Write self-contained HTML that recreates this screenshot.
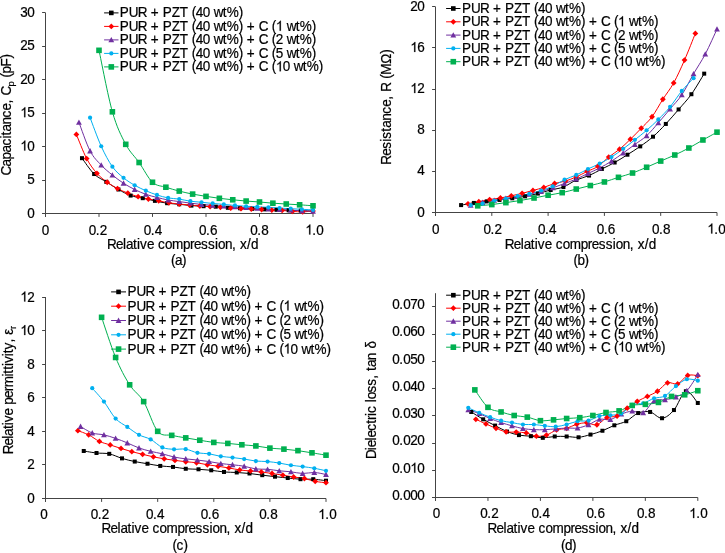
<!DOCTYPE html>
<html><head><meta charset="utf-8"><style>
html,body{margin:0;padding:0;background:#fff;}
svg{display:block;will-change:transform;}
text{stroke:#000;stroke-width:0.2px;}
path.o{stroke:#000;stroke-width:0.2px;vector-effect:non-scaling-stroke;}
</style></head><body>
<svg width="725" height="553" viewBox="0 0 725 553" font-family="Liberation Sans, sans-serif" font-size="13" fill="#000">
<rect width="725" height="553" fill="#fff"/>
<path d="M45.5 12.8V216.9M42.1 213.5H313.0" stroke="#444444" stroke-width="1" fill="none"/>
<path d="M42.1 213.50H45.5" stroke="#444444" stroke-width="1"/>
<g transform="translate(34.30 217.50) scale(1.04 1.07)"><text><tspan x="-6.73" y="0">0</tspan></text></g>
<path d="M42.1 180.50H45.5" stroke="#444444" stroke-width="1"/>
<g transform="translate(34.30 184.05) scale(1.04 1.07)"><text><tspan x="-6.73" y="0">5</tspan></text></g>
<path d="M42.1 146.50H45.5" stroke="#444444" stroke-width="1"/>
<g transform="translate(34.30 150.60) scale(1.04 1.07)"><text><tspan x="-13.46 -6.73" y="0"> 0</tspan></text><path class="o" transform="translate(-13.46 0) scale(0.006348 -0.006348)" d="M763 0h-180v1147q-65 -62 -170.5 -124t-189.5 -93v174q151 71 263.5 171.5t159.5 196.5h117v-1472z"/></g>
<path d="M42.1 113.50H45.5" stroke="#444444" stroke-width="1"/>
<g transform="translate(34.30 117.15) scale(1.04 1.07)"><text><tspan x="-13.46 -6.73" y="0"> 5</tspan></text><path class="o" transform="translate(-13.46 0) scale(0.006348 -0.006348)" d="M763 0h-180v1147q-65 -62 -170.5 -124t-189.5 -93v174q151 71 263.5 171.5t159.5 196.5h117v-1472z"/></g>
<path d="M42.1 79.50H45.5" stroke="#444444" stroke-width="1"/>
<g transform="translate(34.30 83.70) scale(1.04 1.07)"><text><tspan x="-13.46 -6.73" y="0">20</tspan></text></g>
<path d="M42.1 46.50H45.5" stroke="#444444" stroke-width="1"/>
<g transform="translate(34.30 50.25) scale(1.04 1.07)"><text><tspan x="-13.46 -6.73" y="0">25</tspan></text></g>
<path d="M42.1 12.50H45.5" stroke="#444444" stroke-width="1"/>
<g transform="translate(34.30 16.80) scale(1.04 1.07)"><text><tspan x="-13.46 -6.73" y="0">30</tspan></text></g>
<path d="M45.50 213.5V216.9" stroke="#444444" stroke-width="1"/>
<g transform="translate(45.30 234.50) scale(1.04 1.07)"><text><tspan x="-3.37" y="0">0</tspan></text></g>
<path d="M99.00 213.5V216.9" stroke="#444444" stroke-width="1"/>
<g transform="translate(97.80 234.50) scale(1.04 1.07)"><text><tspan x="-8.65 -1.92 1.92" y="0">0.2</tspan></text></g>
<path d="M152.50 213.5V216.9" stroke="#444444" stroke-width="1"/>
<g transform="translate(152.80 234.50) scale(1.04 1.07)"><text><tspan x="-8.65 -1.92 1.92" y="0">0.4</tspan></text></g>
<path d="M206.00 213.5V216.9" stroke="#444444" stroke-width="1"/>
<g transform="translate(208.10 234.50) scale(1.04 1.07)"><text><tspan x="-8.65 -1.92 1.92" y="0">0.6</tspan></text></g>
<path d="M259.50 213.5V216.9" stroke="#444444" stroke-width="1"/>
<g transform="translate(259.30 234.50) scale(1.04 1.07)"><text><tspan x="-8.65 -1.92 1.92" y="0">0.8</tspan></text></g>
<path d="M313.00 213.5V216.9" stroke="#444444" stroke-width="1"/>
<g transform="translate(314.30 234.50) scale(1.04 1.07)"><text><tspan x="-8.65 -1.92 1.92" y="0"> .0</tspan></text><path class="o" transform="translate(-8.65 0) scale(0.006348 -0.006348)" d="M763 0h-180v1147q-65 -62 -170.5 -124t-189.5 -93v174q151 71 263.5 171.5t159.5 196.5h117v-1472z"/></g>
<g transform="translate(182.50 249.20) scale(1.04 1.07)"><text><tspan x="-72.60 -63.94 -57.21 -54.33 -47.60 -43.75 -40.87 -34.13 -27.40 -23.56 -16.83 -10.10 0.48 7.21 11.06 17.79 24.52 31.25 34.13 40.87 47.60 51.44 55.29 62.02 65.87" y="0">Relative compression, x/d</tspan></text></g>
<g transform="translate(178.50 265.00) scale(1.04 1.07)"><text><tspan x="-7.21 -3.37 3.37" y="0">(a)</tspan></text></g>
<g transform="translate(10.50 115.10) rotate(-90) scale(1.04 1.07)"><text><tspan x="-58.17 -49.52 -42.79 -36.06 -29.33 -22.60 -19.71 -15.87 -9.13 -2.40 4.33 11.06 14.90 18.75" y="0">Capacitance, C</tspan><tspan x="27.40" y="3" font-size="9">p</tspan><tspan x="32.21 36.06 39.90 46.63 54.33" y="0"> (pF)</tspan></text></g>
<path d="M81.98 158.17C84.00 160.82 90.08 170.08 94.14 174.03C98.19 177.98 102.24 179.28 106.30 181.86C110.35 184.43 114.40 187.20 118.45 189.48C122.51 191.77 126.56 194.12 130.61 195.57C134.67 197.02 138.72 197.30 142.77 198.18C146.83 199.06 150.88 200.02 154.93 200.86C158.98 201.69 163.04 202.63 167.09 203.20C171.14 203.77 175.20 203.87 179.25 204.27C183.30 204.67 187.36 205.28 191.41 205.61C195.46 205.93 199.52 206.03 203.57 206.21C207.62 206.39 211.67 206.41 215.73 206.68C219.78 206.94 223.83 207.55 227.89 207.81C231.94 208.08 235.99 208.11 240.05 208.28C244.10 208.45 248.15 208.64 252.20 208.82C256.26 209.00 260.31 209.18 264.36 209.35C268.42 209.52 272.47 209.66 276.52 209.82C280.58 209.98 284.63 210.14 288.68 210.29C292.73 210.43 296.79 210.56 300.84 210.69C304.89 210.82 310.97 211.02 313.00 211.09" stroke="#000000" stroke-width="1" fill="none"/>
<path d="M76.37 134.42C78.08 138.45 83.22 152.09 86.65 158.58C90.08 165.06 93.51 169.41 96.94 173.36C100.37 177.31 103.80 179.73 107.23 182.26C110.66 184.79 114.09 186.74 117.52 188.55C120.95 190.35 124.38 191.74 127.81 193.10C131.24 194.46 134.67 195.73 138.10 196.71C141.53 197.69 144.96 198.29 148.38 198.98C151.81 199.67 155.24 200.21 158.67 200.86C162.10 201.50 165.53 202.34 168.96 202.86C172.39 203.39 175.82 203.63 179.25 204.00C182.68 204.37 186.11 204.74 189.54 205.07C192.97 205.41 196.40 205.74 199.83 206.01C203.26 206.27 206.69 206.46 210.12 206.68C213.54 206.89 216.97 207.03 220.40 207.28C223.83 207.52 227.26 207.91 230.69 208.15C234.12 208.38 237.55 208.54 240.98 208.68C244.41 208.83 247.84 208.88 251.27 209.02C254.70 209.15 258.13 209.29 261.56 209.49C264.99 209.69 268.42 210.07 271.85 210.22C275.28 210.38 278.71 210.22 282.13 210.42C285.56 210.62 288.99 211.19 292.42 211.43C295.85 211.66 299.28 211.89 302.71 211.83C306.14 211.76 311.29 211.16 313.00 211.02" stroke="#ff0000" stroke-width="1" fill="none"/>
<path d="M78.94 122.38C80.80 127.14 86.37 143.82 90.08 150.95C93.80 158.07 97.51 161.12 101.23 165.13C104.94 169.15 108.66 172.01 112.38 175.03C116.09 178.05 119.81 180.85 123.52 183.26C127.24 185.67 130.95 187.64 134.67 189.48C138.38 191.32 142.10 192.97 145.81 194.30C149.53 195.63 153.24 196.50 156.96 197.44C160.67 198.39 164.39 199.29 168.10 199.99C171.82 200.68 175.53 201.07 179.25 201.59C182.97 202.12 186.68 202.65 190.40 203.13C194.11 203.61 197.83 204.10 201.54 204.47C205.26 204.84 208.97 205.06 212.69 205.34C216.40 205.62 220.12 205.90 223.83 206.14C227.55 206.39 231.26 206.56 234.98 206.81C238.69 207.06 242.41 207.37 246.12 207.61C249.84 207.86 253.56 208.06 257.27 208.28C260.99 208.50 264.70 208.73 268.42 208.95C272.13 209.17 275.85 209.42 279.56 209.62C283.28 209.82 286.99 209.98 290.71 210.16C294.42 210.33 298.14 210.51 301.85 210.69C305.57 210.87 311.14 211.14 313.00 211.23" stroke="#7030a0" stroke-width="1" fill="none"/>
<path d="M90.08 117.70C91.94 122.46 97.51 138.10 101.23 146.27C104.94 154.43 108.66 161.42 112.38 166.67C116.09 171.92 119.81 174.68 123.52 177.78C127.24 180.88 130.95 183.12 134.67 185.27C138.38 187.42 142.10 189.07 145.81 190.69C149.53 192.30 153.24 193.76 156.96 194.97C160.67 196.17 164.39 197.22 168.10 197.91C171.82 198.60 175.53 198.57 179.25 199.12C182.97 199.66 186.68 200.67 190.40 201.19C194.11 201.71 197.83 201.88 201.54 202.26C205.26 202.64 208.97 203.11 212.69 203.47C216.40 203.82 220.12 204.07 223.83 204.40C227.55 204.74 231.26 205.16 234.98 205.47C238.69 205.78 242.41 206.04 246.12 206.27C249.84 206.51 253.56 206.71 257.27 206.88C260.99 207.04 264.70 207.08 268.42 207.28C272.13 207.48 275.85 207.85 279.56 208.08C283.28 208.32 286.99 208.48 290.71 208.68C294.42 208.88 298.14 209.08 301.85 209.29C305.57 209.49 311.14 209.79 313.00 209.89" stroke="#00b0f0" stroke-width="1" fill="none"/>
<path d="M99.00 50.33C101.23 60.58 107.92 96.15 112.38 111.81C116.83 127.48 121.29 135.87 125.75 144.33C130.21 152.78 134.67 156.20 139.12 162.52C143.58 168.84 148.04 178.14 152.50 182.26C156.96 186.37 161.42 185.74 165.88 187.21C170.33 188.68 174.79 189.94 179.25 191.09C183.71 192.24 188.17 193.22 192.62 194.10C197.08 194.98 201.54 195.67 206.00 196.37C210.46 197.08 214.92 197.75 219.38 198.31C223.83 198.88 228.29 199.33 232.75 199.79C237.21 200.24 241.67 200.69 246.12 201.06C250.58 201.42 255.04 201.64 259.50 201.99C263.96 202.35 268.42 202.86 272.88 203.20C277.33 203.53 281.79 203.73 286.25 204.00C290.71 204.27 295.17 204.50 299.62 204.80C304.08 205.10 310.77 205.64 313.00 205.81" stroke="#00b050" stroke-width="1" fill="none"/>
<rect x="79.98" y="156.17" width="4.00" height="4.00" fill="#000000"/>
<rect x="92.14" y="172.03" width="4.00" height="4.00" fill="#000000"/>
<rect x="104.30" y="179.86" width="4.00" height="4.00" fill="#000000"/>
<rect x="116.45" y="187.48" width="4.00" height="4.00" fill="#000000"/>
<rect x="128.61" y="193.57" width="4.00" height="4.00" fill="#000000"/>
<rect x="140.77" y="196.18" width="4.00" height="4.00" fill="#000000"/>
<rect x="152.93" y="198.86" width="4.00" height="4.00" fill="#000000"/>
<rect x="165.09" y="201.20" width="4.00" height="4.00" fill="#000000"/>
<rect x="177.25" y="202.27" width="4.00" height="4.00" fill="#000000"/>
<rect x="189.41" y="203.61" width="4.00" height="4.00" fill="#000000"/>
<rect x="201.57" y="204.21" width="4.00" height="4.00" fill="#000000"/>
<rect x="213.73" y="204.68" width="4.00" height="4.00" fill="#000000"/>
<rect x="225.89" y="205.81" width="4.00" height="4.00" fill="#000000"/>
<rect x="238.05" y="206.28" width="4.00" height="4.00" fill="#000000"/>
<rect x="250.20" y="206.82" width="4.00" height="4.00" fill="#000000"/>
<rect x="262.36" y="207.35" width="4.00" height="4.00" fill="#000000"/>
<rect x="274.52" y="207.82" width="4.00" height="4.00" fill="#000000"/>
<rect x="286.68" y="208.29" width="4.00" height="4.00" fill="#000000"/>
<rect x="298.84" y="208.69" width="4.00" height="4.00" fill="#000000"/>
<rect x="311.00" y="209.09" width="4.00" height="4.00" fill="#000000"/>
<path d="M76.37 131.52L79.27 134.42L76.37 137.32L73.47 134.42Z" fill="#ff0000"/>
<path d="M86.65 155.68L89.55 158.58L86.65 161.48L83.75 158.58Z" fill="#ff0000"/>
<path d="M96.94 170.46L99.84 173.36L96.94 176.26L94.04 173.36Z" fill="#ff0000"/>
<path d="M107.23 179.36L110.13 182.26L107.23 185.16L104.33 182.26Z" fill="#ff0000"/>
<path d="M117.52 185.65L120.42 188.55L117.52 191.45L114.62 188.55Z" fill="#ff0000"/>
<path d="M127.81 190.20L130.71 193.10L127.81 196.00L124.91 193.10Z" fill="#ff0000"/>
<path d="M138.10 193.81L141.00 196.71L138.10 199.61L135.20 196.71Z" fill="#ff0000"/>
<path d="M148.38 196.08L151.28 198.98L148.38 201.88L145.48 198.98Z" fill="#ff0000"/>
<path d="M158.67 197.96L161.57 200.86L158.67 203.76L155.77 200.86Z" fill="#ff0000"/>
<path d="M168.96 199.96L171.86 202.86L168.96 205.76L166.06 202.86Z" fill="#ff0000"/>
<path d="M179.25 201.10L182.15 204.00L179.25 206.90L176.35 204.00Z" fill="#ff0000"/>
<path d="M189.54 202.17L192.44 205.07L189.54 207.97L186.64 205.07Z" fill="#ff0000"/>
<path d="M199.83 203.11L202.73 206.01L199.83 208.91L196.93 206.01Z" fill="#ff0000"/>
<path d="M210.12 203.78L213.02 206.68L210.12 209.58L207.22 206.68Z" fill="#ff0000"/>
<path d="M220.40 204.38L223.30 207.28L220.40 210.18L217.50 207.28Z" fill="#ff0000"/>
<path d="M230.69 205.25L233.59 208.15L230.69 211.05L227.79 208.15Z" fill="#ff0000"/>
<path d="M240.98 205.78L243.88 208.68L240.98 211.58L238.08 208.68Z" fill="#ff0000"/>
<path d="M251.27 206.12L254.17 209.02L251.27 211.92L248.37 209.02Z" fill="#ff0000"/>
<path d="M261.56 206.59L264.46 209.49L261.56 212.39L258.66 209.49Z" fill="#ff0000"/>
<path d="M271.85 207.32L274.75 210.22L271.85 213.12L268.95 210.22Z" fill="#ff0000"/>
<path d="M282.13 207.52L285.03 210.42L282.13 213.32L279.23 210.42Z" fill="#ff0000"/>
<path d="M292.42 208.53L295.32 211.43L292.42 214.33L289.52 211.43Z" fill="#ff0000"/>
<path d="M302.71 208.93L305.61 211.83L302.71 214.73L299.81 211.83Z" fill="#ff0000"/>
<path d="M313.00 208.12L315.90 211.02L313.00 213.92L310.10 211.02Z" fill="#ff0000"/>
<path d="M78.94 119.48L81.84 124.85L76.04 124.85Z" fill="#7030a0"/>
<path d="M90.08 148.05L92.98 153.41L87.18 153.41Z" fill="#7030a0"/>
<path d="M101.23 162.23L104.13 167.60L98.33 167.60Z" fill="#7030a0"/>
<path d="M112.38 172.13L115.28 177.50L109.47 177.50Z" fill="#7030a0"/>
<path d="M123.52 180.36L126.42 185.73L120.62 185.73Z" fill="#7030a0"/>
<path d="M134.67 186.58L137.57 191.95L131.77 191.95Z" fill="#7030a0"/>
<path d="M145.81 191.40L148.71 196.76L142.91 196.76Z" fill="#7030a0"/>
<path d="M156.96 194.54L159.86 199.91L154.06 199.91Z" fill="#7030a0"/>
<path d="M168.10 197.09L171.00 202.45L165.20 202.45Z" fill="#7030a0"/>
<path d="M179.25 198.69L182.15 204.06L176.35 204.06Z" fill="#7030a0"/>
<path d="M190.40 200.23L193.30 205.60L187.50 205.60Z" fill="#7030a0"/>
<path d="M201.54 201.57L204.44 206.93L198.64 206.93Z" fill="#7030a0"/>
<path d="M212.69 202.44L215.59 207.80L209.79 207.80Z" fill="#7030a0"/>
<path d="M223.83 203.24L226.73 208.61L220.93 208.61Z" fill="#7030a0"/>
<path d="M234.98 203.91L237.88 209.28L232.08 209.28Z" fill="#7030a0"/>
<path d="M246.12 204.71L249.03 210.08L243.22 210.08Z" fill="#7030a0"/>
<path d="M257.27 205.38L260.17 210.75L254.37 210.75Z" fill="#7030a0"/>
<path d="M268.42 206.05L271.32 211.42L265.52 211.42Z" fill="#7030a0"/>
<path d="M279.56 206.72L282.46 212.08L276.66 212.08Z" fill="#7030a0"/>
<path d="M290.71 207.25L293.61 212.62L287.81 212.62Z" fill="#7030a0"/>
<path d="M301.85 207.79L304.75 213.16L298.95 213.16Z" fill="#7030a0"/>
<path d="M313.00 208.33L315.90 213.69L310.10 213.69Z" fill="#7030a0"/>
<circle cx="90.08" cy="117.70" r="2.10" fill="#00b0f0"/>
<circle cx="101.23" cy="146.27" r="2.10" fill="#00b0f0"/>
<circle cx="112.38" cy="166.67" r="2.10" fill="#00b0f0"/>
<circle cx="123.52" cy="177.78" r="2.10" fill="#00b0f0"/>
<circle cx="134.67" cy="185.27" r="2.10" fill="#00b0f0"/>
<circle cx="145.81" cy="190.69" r="2.10" fill="#00b0f0"/>
<circle cx="156.96" cy="194.97" r="2.10" fill="#00b0f0"/>
<circle cx="168.10" cy="197.91" r="2.10" fill="#00b0f0"/>
<circle cx="179.25" cy="199.12" r="2.10" fill="#00b0f0"/>
<circle cx="190.40" cy="201.19" r="2.10" fill="#00b0f0"/>
<circle cx="201.54" cy="202.26" r="2.10" fill="#00b0f0"/>
<circle cx="212.69" cy="203.47" r="2.10" fill="#00b0f0"/>
<circle cx="223.83" cy="204.40" r="2.10" fill="#00b0f0"/>
<circle cx="234.98" cy="205.47" r="2.10" fill="#00b0f0"/>
<circle cx="246.12" cy="206.27" r="2.10" fill="#00b0f0"/>
<circle cx="257.27" cy="206.88" r="2.10" fill="#00b0f0"/>
<circle cx="268.42" cy="207.28" r="2.10" fill="#00b0f0"/>
<circle cx="279.56" cy="208.08" r="2.10" fill="#00b0f0"/>
<circle cx="290.71" cy="208.68" r="2.10" fill="#00b0f0"/>
<circle cx="301.85" cy="209.29" r="2.10" fill="#00b0f0"/>
<circle cx="313.00" cy="209.89" r="2.10" fill="#00b0f0"/>
<rect x="96.20" y="47.53" width="5.60" height="5.60" fill="#00b050"/>
<rect x="109.58" y="109.01" width="5.60" height="5.60" fill="#00b050"/>
<rect x="122.95" y="141.53" width="5.60" height="5.60" fill="#00b050"/>
<rect x="136.32" y="159.72" width="5.60" height="5.60" fill="#00b050"/>
<rect x="149.70" y="179.46" width="5.60" height="5.60" fill="#00b050"/>
<rect x="163.07" y="184.41" width="5.60" height="5.60" fill="#00b050"/>
<rect x="176.45" y="188.29" width="5.60" height="5.60" fill="#00b050"/>
<rect x="189.82" y="191.30" width="5.60" height="5.60" fill="#00b050"/>
<rect x="203.20" y="193.57" width="5.60" height="5.60" fill="#00b050"/>
<rect x="216.57" y="195.51" width="5.60" height="5.60" fill="#00b050"/>
<rect x="229.95" y="196.99" width="5.60" height="5.60" fill="#00b050"/>
<rect x="243.32" y="198.26" width="5.60" height="5.60" fill="#00b050"/>
<rect x="256.70" y="199.19" width="5.60" height="5.60" fill="#00b050"/>
<rect x="270.07" y="200.40" width="5.60" height="5.60" fill="#00b050"/>
<rect x="283.45" y="201.20" width="5.60" height="5.60" fill="#00b050"/>
<rect x="296.82" y="202.00" width="5.60" height="5.60" fill="#00b050"/>
<rect x="310.20" y="203.01" width="5.60" height="5.60" fill="#00b050"/>
<path d="M104.1 12.90H118.5" stroke="#000000" stroke-width="1"/>
<rect x="109.00" y="10.60" width="4.60" height="4.60" fill="#000000"/>
<g transform="translate(119.80 17.30) scale(1.04 1.07)"><text><tspan x="0.00 8.65 17.31 25.96 29.81 37.50 41.35 50.00 57.69 65.38 69.23 73.08 79.81 86.54 90.38 99.04 102.88 114.42" y="0">PUR + PZT (40 wt%)</tspan></text></g>
<path d="M104.1 26.40H118.5" stroke="#ff0000" stroke-width="1"/>
<path d="M111.30 23.50L114.20 26.40L111.30 29.30L108.40 26.40Z" fill="#ff0000"/>
<g transform="translate(119.80 30.80) scale(1.04 1.07)"><text><tspan x="0.00 8.65 17.31 25.96 29.81 37.50 41.35 50.00 57.69 65.38 69.23 73.08 79.81 86.54 90.38 99.04 102.88 114.42 118.27 122.12 129.81 133.65 142.31 146.15 150.00 156.73 160.58 169.23 173.08 184.62" y="0">PUR + PZT (40 wt%) + C (  wt%)</tspan></text><path class="o" transform="translate(150.00 0) scale(0.006348 -0.006348)" d="M763 0h-180v1147q-65 -62 -170.5 -124t-189.5 -93v174q151 71 263.5 171.5t159.5 196.5h117v-1472z"/></g>
<path d="M104.1 39.90H118.5" stroke="#7030a0" stroke-width="1"/>
<path d="M111.30 37.00L114.20 42.36L108.40 42.36Z" fill="#7030a0"/>
<g transform="translate(119.80 44.30) scale(1.04 1.07)"><text><tspan x="0.00 8.65 17.31 25.96 29.81 37.50 41.35 50.00 57.69 65.38 69.23 73.08 79.81 86.54 90.38 99.04 102.88 114.42 118.27 122.12 129.81 133.65 142.31 146.15 150.00 156.73 160.58 169.23 173.08 184.62" y="0">PUR + PZT (40 wt%) + C (2 wt%)</tspan></text></g>
<path d="M104.1 53.40H118.5" stroke="#00b0f0" stroke-width="1"/>
<circle cx="111.30" cy="53.40" r="2.10" fill="#00b0f0"/>
<g transform="translate(119.80 57.80) scale(1.04 1.07)"><text><tspan x="0.00 8.65 17.31 25.96 29.81 37.50 41.35 50.00 57.69 65.38 69.23 73.08 79.81 86.54 90.38 99.04 102.88 114.42 118.27 122.12 129.81 133.65 142.31 146.15 150.00 156.73 160.58 169.23 173.08 184.62" y="0">PUR + PZT (40 wt%) + C (5 wt%)</tspan></text></g>
<path d="M104.1 66.90H118.5" stroke="#00b050" stroke-width="1"/>
<rect x="108.50" y="64.10" width="5.60" height="5.60" fill="#00b050"/>
<g transform="translate(119.80 71.30) scale(1.04 1.07)"><text><tspan x="0.00 8.65 17.31 25.96 29.81 37.50 41.35 50.00 57.69 65.38 69.23 73.08 79.81 86.54 90.38 99.04 102.88 114.42 118.27 122.12 129.81 133.65 142.31 146.15 150.00 156.73 163.46 167.31 175.96 179.81 191.35" y="0">PUR + PZT (40 wt%) + C ( 0 wt%)</tspan></text><path class="o" transform="translate(150.00 0) scale(0.006348 -0.006348)" d="M763 0h-180v1147q-65 -62 -170.5 -124t-189.5 -93v174q151 71 263.5 171.5t159.5 196.5h117v-1472z"/></g>
<path d="M435.5 6.8V215.9M432.1 212.5H717.0" stroke="#444444" stroke-width="1" fill="none"/>
<path d="M432.1 212.50H435.5" stroke="#444444" stroke-width="1"/>
<g transform="translate(424.30 216.50) scale(1.04 1.07)"><text><tspan x="-6.73" y="0">0</tspan></text></g>
<path d="M432.1 171.50H435.5" stroke="#444444" stroke-width="1"/>
<g transform="translate(424.30 175.36) scale(1.04 1.07)"><text><tspan x="-6.73" y="0">4</tspan></text></g>
<path d="M432.1 130.50H435.5" stroke="#444444" stroke-width="1"/>
<g transform="translate(424.30 134.22) scale(1.04 1.07)"><text><tspan x="-6.73" y="0">8</tspan></text></g>
<path d="M432.1 89.50H435.5" stroke="#444444" stroke-width="1"/>
<g transform="translate(424.30 93.08) scale(1.04 1.07)"><text><tspan x="-13.46 -6.73" y="0"> 2</tspan></text><path class="o" transform="translate(-13.46 0) scale(0.006348 -0.006348)" d="M763 0h-180v1147q-65 -62 -170.5 -124t-189.5 -93v174q151 71 263.5 171.5t159.5 196.5h117v-1472z"/></g>
<path d="M432.1 47.50H435.5" stroke="#444444" stroke-width="1"/>
<g transform="translate(424.30 51.94) scale(1.04 1.07)"><text><tspan x="-13.46 -6.73" y="0"> 6</tspan></text><path class="o" transform="translate(-13.46 0) scale(0.006348 -0.006348)" d="M763 0h-180v1147q-65 -62 -170.5 -124t-189.5 -93v174q151 71 263.5 171.5t159.5 196.5h117v-1472z"/></g>
<path d="M432.1 6.50H435.5" stroke="#444444" stroke-width="1"/>
<g transform="translate(424.30 10.80) scale(1.04 1.07)"><text><tspan x="-13.46 -6.73" y="0">20</tspan></text></g>
<path d="M435.50 212.5V215.9" stroke="#444444" stroke-width="1"/>
<g transform="translate(435.50 233.50) scale(1.04 1.07)"><text><tspan x="-3.37" y="0">0</tspan></text></g>
<path d="M491.80 212.5V215.9" stroke="#444444" stroke-width="1"/>
<g transform="translate(492.60 233.50) scale(1.04 1.07)"><text><tspan x="-8.65 -1.92 1.92" y="0">0.2</tspan></text></g>
<path d="M548.10 212.5V215.9" stroke="#444444" stroke-width="1"/>
<g transform="translate(547.10 233.50) scale(1.04 1.07)"><text><tspan x="-8.65 -1.92 1.92" y="0">0.4</tspan></text></g>
<path d="M604.40 212.5V215.9" stroke="#444444" stroke-width="1"/>
<g transform="translate(605.80 233.50) scale(1.04 1.07)"><text><tspan x="-8.65 -1.92 1.92" y="0">0.6</tspan></text></g>
<path d="M660.70 212.5V215.9" stroke="#444444" stroke-width="1"/>
<g transform="translate(661.00 233.50) scale(1.04 1.07)"><text><tspan x="-8.65 -1.92 1.92" y="0">0.8</tspan></text></g>
<path d="M717.00 212.5V215.9" stroke="#444444" stroke-width="1"/>
<g transform="translate(716.30 233.50) scale(1.04 1.07)"><text><tspan x="-8.65 -1.92 1.92" y="0"> .0</tspan></text><path class="o" transform="translate(-8.65 0) scale(0.006348 -0.006348)" d="M763 0h-180v1147q-65 -62 -170.5 -124t-189.5 -93v174q151 71 263.5 171.5t159.5 196.5h117v-1472z"/></g>
<g transform="translate(580.20 249.20) scale(1.04 1.07)"><text><tspan x="-72.60 -63.94 -57.21 -54.33 -47.60 -43.75 -40.87 -34.13 -27.40 -23.56 -16.83 -10.10 0.48 7.21 11.06 17.79 24.52 31.25 34.13 40.87 47.60 51.44 55.29 62.02 65.87" y="0">Relative compression, x/d</tspan></text></g>
<g transform="translate(581.00 264.80) scale(1.04 1.07)"><text><tspan x="-7.21 -3.37 3.37" y="0">(b)</tspan></text></g>
<g transform="translate(390.80 107.30) rotate(-90) scale(1.04 1.07)"><text><tspan x="-55.29 -46.63 -39.90 -33.17 -30.29 -23.56 -19.71 -12.98 -6.25 0.48 7.21 11.06 14.90 23.56 27.40 31.25 41.83 51.44" y="0">Resistance, R (MΩ)</tspan></text></g>
<path d="M461.09 205.09C463.22 204.73 469.62 203.55 473.89 202.93C478.15 202.32 482.42 201.89 486.68 201.39C490.95 200.90 495.21 200.47 499.48 199.95C503.74 199.44 508.01 198.91 512.27 198.31C516.54 197.71 520.80 197.14 525.07 196.35C529.33 195.56 533.60 194.64 537.86 193.58C542.13 192.51 546.39 191.07 550.66 189.98C554.92 188.88 559.19 188.66 563.45 186.99C567.72 185.33 571.98 181.90 576.25 180.00C580.52 178.10 584.78 177.41 589.05 175.58C593.31 173.74 597.58 171.17 601.84 168.99C606.11 166.82 610.37 164.90 614.64 162.51C618.90 160.13 623.17 157.39 627.43 154.70C631.70 152.01 635.96 149.37 640.23 146.37C644.49 143.37 648.76 140.44 653.02 136.70C657.29 132.96 661.55 128.49 665.82 123.95C670.08 119.40 674.35 114.40 678.61 109.44C682.88 104.49 687.14 100.19 691.41 94.22C695.67 88.26 702.07 77.08 704.20 73.65" stroke="#000000" stroke-width="1" fill="none"/>
<path d="M467.98 203.86C469.79 203.50 475.20 202.42 478.81 201.70C482.42 200.98 486.03 200.16 489.63 199.54C493.24 198.92 496.85 198.62 500.46 198.00C504.07 197.38 507.68 196.61 511.29 195.84C514.90 195.07 518.51 194.26 522.12 193.37C525.72 192.48 529.33 191.48 532.94 190.49C536.55 189.50 540.16 188.57 543.77 187.40C547.38 186.24 550.99 184.56 554.60 183.50C558.21 182.43 561.81 182.12 565.42 181.03C569.03 179.93 572.64 178.51 576.25 176.91C579.86 175.32 583.47 173.21 587.08 171.46C590.69 169.71 594.29 168.82 597.90 166.42C601.51 164.02 605.12 159.93 608.73 157.06C612.34 154.20 615.95 152.21 619.56 149.25C623.17 146.28 626.78 142.77 630.38 139.27C633.99 135.77 637.60 132.02 641.21 128.27C644.82 124.51 648.43 121.58 652.04 116.75C655.65 111.91 659.26 104.90 662.87 99.26C666.47 93.62 670.08 89.44 673.69 82.91C677.30 76.38 680.91 68.32 684.52 60.08C688.13 51.83 693.54 37.88 695.35 33.44" stroke="#ff0000" stroke-width="1" fill="none"/>
<path d="M470.69 205.30C472.64 204.82 478.51 203.24 482.42 202.42C486.33 201.60 490.24 201.03 494.15 200.36C498.06 199.70 501.97 199.04 505.88 198.41C509.78 197.78 513.69 197.26 517.60 196.56C521.51 195.86 525.42 195.05 529.33 194.19C533.24 193.34 537.15 192.48 541.06 191.42C544.97 190.35 548.88 189.14 552.79 187.82C556.70 186.50 560.61 184.95 564.52 183.50C568.43 182.04 572.34 180.75 576.25 179.07C580.16 177.39 584.07 175.27 587.98 173.42C591.89 171.57 595.80 170.01 599.71 167.97C603.62 165.93 607.53 163.66 611.44 161.18C615.35 158.69 619.26 155.85 623.17 153.05C627.08 150.26 630.99 147.29 634.90 144.41C638.81 141.53 642.72 139.37 646.62 135.77C650.53 132.17 654.44 127.29 658.35 122.81C662.26 118.34 666.17 113.59 670.08 108.93C673.99 104.27 677.90 100.68 681.81 94.84C685.72 88.99 689.63 80.65 693.54 73.86C697.45 67.07 701.36 61.57 705.27 54.11C709.18 46.65 715.05 33.28 717.00 29.12" stroke="#7030a0" stroke-width="1" fill="none"/>
<path d="M470.69 205.09C472.64 204.84 478.51 204.27 482.42 203.55C486.33 202.83 490.24 201.60 494.15 200.78C498.06 199.95 501.97 199.40 505.88 198.62C509.78 197.83 513.69 196.83 517.60 196.04C521.51 195.26 525.42 194.81 529.33 193.88C533.24 192.96 537.15 191.76 541.06 190.49C544.97 189.22 548.88 188.07 552.79 186.27C556.70 184.47 560.61 181.58 564.52 179.69C568.43 177.81 572.34 176.74 576.25 174.96C580.16 173.18 584.07 170.90 587.98 168.99C591.89 167.09 595.80 165.53 599.71 163.54C603.62 161.55 607.53 159.52 611.44 157.06C615.35 154.61 619.26 151.72 623.17 148.84C627.08 145.96 630.99 142.87 634.90 139.79C638.81 136.70 642.72 133.72 646.62 130.32C650.53 126.93 654.44 123.33 658.35 119.42C662.26 115.51 666.17 111.62 670.08 106.87C673.99 102.12 677.90 95.71 681.81 90.93C685.72 86.15 691.59 80.30 693.54 78.18" stroke="#00b0f0" stroke-width="1" fill="none"/>
<path d="M477.73 205.81C480.07 205.61 487.11 205.11 491.80 204.58C496.49 204.05 501.18 203.29 505.88 202.63C510.57 201.96 515.26 201.34 519.95 200.57C524.64 199.80 529.33 198.89 534.02 198.00C538.72 197.11 543.41 196.11 548.10 195.22C552.79 194.33 557.48 193.68 562.17 192.65C566.87 191.62 571.56 190.23 576.25 189.05C580.94 187.87 585.63 186.74 590.33 185.55C595.02 184.37 599.71 183.32 604.40 181.95C609.09 180.58 613.78 178.82 618.48 177.33C623.17 175.83 627.86 174.69 632.55 173.01C637.24 171.33 641.93 169.23 646.62 167.25C651.32 165.26 656.01 163.11 660.70 161.07C665.39 159.04 670.08 157.18 674.77 155.01C679.47 152.83 684.16 150.52 688.85 148.01C693.54 145.51 698.23 142.63 702.92 139.99C707.62 137.35 714.65 133.48 717.00 132.17" stroke="#00b050" stroke-width="1" fill="none"/>
<rect x="459.09" y="203.09" width="4.00" height="4.00" fill="#000000"/>
<rect x="471.89" y="200.93" width="4.00" height="4.00" fill="#000000"/>
<rect x="484.68" y="199.39" width="4.00" height="4.00" fill="#000000"/>
<rect x="497.48" y="197.95" width="4.00" height="4.00" fill="#000000"/>
<rect x="510.27" y="196.31" width="4.00" height="4.00" fill="#000000"/>
<rect x="523.07" y="194.35" width="4.00" height="4.00" fill="#000000"/>
<rect x="535.86" y="191.58" width="4.00" height="4.00" fill="#000000"/>
<rect x="548.66" y="187.98" width="4.00" height="4.00" fill="#000000"/>
<rect x="561.45" y="184.99" width="4.00" height="4.00" fill="#000000"/>
<rect x="574.25" y="178.00" width="4.00" height="4.00" fill="#000000"/>
<rect x="587.05" y="173.58" width="4.00" height="4.00" fill="#000000"/>
<rect x="599.84" y="166.99" width="4.00" height="4.00" fill="#000000"/>
<rect x="612.64" y="160.51" width="4.00" height="4.00" fill="#000000"/>
<rect x="625.43" y="152.70" width="4.00" height="4.00" fill="#000000"/>
<rect x="638.23" y="144.37" width="4.00" height="4.00" fill="#000000"/>
<rect x="651.02" y="134.70" width="4.00" height="4.00" fill="#000000"/>
<rect x="663.82" y="121.95" width="4.00" height="4.00" fill="#000000"/>
<rect x="676.61" y="107.44" width="4.00" height="4.00" fill="#000000"/>
<rect x="689.41" y="92.22" width="4.00" height="4.00" fill="#000000"/>
<rect x="702.20" y="71.65" width="4.00" height="4.00" fill="#000000"/>
<path d="M467.98 200.96L470.88 203.86L467.98 206.76L465.08 203.86Z" fill="#ff0000"/>
<path d="M478.81 198.80L481.71 201.70L478.81 204.60L475.91 201.70Z" fill="#ff0000"/>
<path d="M489.63 196.64L492.53 199.54L489.63 202.44L486.73 199.54Z" fill="#ff0000"/>
<path d="M500.46 195.10L503.36 198.00L500.46 200.90L497.56 198.00Z" fill="#ff0000"/>
<path d="M511.29 192.94L514.19 195.84L511.29 198.74L508.39 195.84Z" fill="#ff0000"/>
<path d="M522.12 190.47L525.02 193.37L522.12 196.27L519.22 193.37Z" fill="#ff0000"/>
<path d="M532.94 187.59L535.84 190.49L532.94 193.39L530.04 190.49Z" fill="#ff0000"/>
<path d="M543.77 184.50L546.67 187.40L543.77 190.30L540.87 187.40Z" fill="#ff0000"/>
<path d="M554.60 180.60L557.50 183.50L554.60 186.40L551.70 183.50Z" fill="#ff0000"/>
<path d="M565.42 178.13L568.32 181.03L565.42 183.93L562.52 181.03Z" fill="#ff0000"/>
<path d="M576.25 174.01L579.15 176.91L576.25 179.81L573.35 176.91Z" fill="#ff0000"/>
<path d="M587.08 168.56L589.98 171.46L587.08 174.36L584.18 171.46Z" fill="#ff0000"/>
<path d="M597.90 163.52L600.80 166.42L597.90 169.32L595.00 166.42Z" fill="#ff0000"/>
<path d="M608.73 154.16L611.63 157.06L608.73 159.96L605.83 157.06Z" fill="#ff0000"/>
<path d="M619.56 146.35L622.46 149.25L619.56 152.15L616.66 149.25Z" fill="#ff0000"/>
<path d="M630.38 136.37L633.28 139.27L630.38 142.17L627.48 139.27Z" fill="#ff0000"/>
<path d="M641.21 125.37L644.11 128.27L641.21 131.17L638.31 128.27Z" fill="#ff0000"/>
<path d="M652.04 113.85L654.94 116.75L652.04 119.65L649.14 116.75Z" fill="#ff0000"/>
<path d="M662.87 96.36L665.77 99.26L662.87 102.16L659.97 99.26Z" fill="#ff0000"/>
<path d="M673.69 80.01L676.59 82.91L673.69 85.81L670.79 82.91Z" fill="#ff0000"/>
<path d="M684.52 57.18L687.42 60.08L684.52 62.98L681.62 60.08Z" fill="#ff0000"/>
<path d="M695.35 30.54L698.25 33.44L695.35 36.34L692.45 33.44Z" fill="#ff0000"/>
<path d="M470.69 202.40L473.59 207.77L467.79 207.77Z" fill="#7030a0"/>
<path d="M482.42 199.52L485.32 204.89L479.52 204.89Z" fill="#7030a0"/>
<path d="M494.15 197.46L497.05 202.83L491.25 202.83Z" fill="#7030a0"/>
<path d="M505.88 195.51L508.77 200.87L502.98 200.87Z" fill="#7030a0"/>
<path d="M517.60 193.66L520.50 199.02L514.70 199.02Z" fill="#7030a0"/>
<path d="M529.33 191.29L532.23 196.66L526.43 196.66Z" fill="#7030a0"/>
<path d="M541.06 188.52L543.96 193.88L538.16 193.88Z" fill="#7030a0"/>
<path d="M552.79 184.92L555.69 190.28L549.89 190.28Z" fill="#7030a0"/>
<path d="M564.52 180.60L567.42 185.96L561.62 185.96Z" fill="#7030a0"/>
<path d="M576.25 176.17L579.15 181.54L573.35 181.54Z" fill="#7030a0"/>
<path d="M587.98 170.52L590.88 175.88L585.08 175.88Z" fill="#7030a0"/>
<path d="M599.71 165.07L602.61 170.43L596.81 170.43Z" fill="#7030a0"/>
<path d="M611.44 158.28L614.34 163.64L608.54 163.64Z" fill="#7030a0"/>
<path d="M623.17 150.15L626.07 155.52L620.27 155.52Z" fill="#7030a0"/>
<path d="M634.90 141.51L637.80 146.88L632.00 146.88Z" fill="#7030a0"/>
<path d="M646.62 132.87L649.52 138.24L643.73 138.24Z" fill="#7030a0"/>
<path d="M658.35 119.91L661.25 125.28L655.45 125.28Z" fill="#7030a0"/>
<path d="M670.08 106.03L672.98 111.40L667.18 111.40Z" fill="#7030a0"/>
<path d="M681.81 91.94L684.71 97.30L678.91 97.30Z" fill="#7030a0"/>
<path d="M693.54 70.96L696.44 76.32L690.64 76.32Z" fill="#7030a0"/>
<path d="M705.27 51.21L708.17 56.58L702.37 56.58Z" fill="#7030a0"/>
<path d="M717.00 26.22L719.90 31.58L714.10 31.58Z" fill="#7030a0"/>
<circle cx="470.69" cy="205.09" r="2.10" fill="#00b0f0"/>
<circle cx="482.42" cy="203.55" r="2.10" fill="#00b0f0"/>
<circle cx="494.15" cy="200.78" r="2.10" fill="#00b0f0"/>
<circle cx="505.88" cy="198.62" r="2.10" fill="#00b0f0"/>
<circle cx="517.60" cy="196.04" r="2.10" fill="#00b0f0"/>
<circle cx="529.33" cy="193.88" r="2.10" fill="#00b0f0"/>
<circle cx="541.06" cy="190.49" r="2.10" fill="#00b0f0"/>
<circle cx="552.79" cy="186.27" r="2.10" fill="#00b0f0"/>
<circle cx="564.52" cy="179.69" r="2.10" fill="#00b0f0"/>
<circle cx="576.25" cy="174.96" r="2.10" fill="#00b0f0"/>
<circle cx="587.98" cy="168.99" r="2.10" fill="#00b0f0"/>
<circle cx="599.71" cy="163.54" r="2.10" fill="#00b0f0"/>
<circle cx="611.44" cy="157.06" r="2.10" fill="#00b0f0"/>
<circle cx="623.17" cy="148.84" r="2.10" fill="#00b0f0"/>
<circle cx="634.90" cy="139.79" r="2.10" fill="#00b0f0"/>
<circle cx="646.62" cy="130.32" r="2.10" fill="#00b0f0"/>
<circle cx="658.35" cy="119.42" r="2.10" fill="#00b0f0"/>
<circle cx="670.08" cy="106.87" r="2.10" fill="#00b0f0"/>
<circle cx="681.81" cy="90.93" r="2.10" fill="#00b0f0"/>
<circle cx="693.54" cy="78.18" r="2.10" fill="#00b0f0"/>
<rect x="474.93" y="203.01" width="5.60" height="5.60" fill="#00b050"/>
<rect x="489.00" y="201.78" width="5.60" height="5.60" fill="#00b050"/>
<rect x="503.07" y="199.83" width="5.60" height="5.60" fill="#00b050"/>
<rect x="517.15" y="197.77" width="5.60" height="5.60" fill="#00b050"/>
<rect x="531.23" y="195.20" width="5.60" height="5.60" fill="#00b050"/>
<rect x="545.30" y="192.42" width="5.60" height="5.60" fill="#00b050"/>
<rect x="559.38" y="189.85" width="5.60" height="5.60" fill="#00b050"/>
<rect x="573.45" y="186.25" width="5.60" height="5.60" fill="#00b050"/>
<rect x="587.53" y="182.75" width="5.60" height="5.60" fill="#00b050"/>
<rect x="601.60" y="179.15" width="5.60" height="5.60" fill="#00b050"/>
<rect x="615.68" y="174.53" width="5.60" height="5.60" fill="#00b050"/>
<rect x="629.75" y="170.21" width="5.60" height="5.60" fill="#00b050"/>
<rect x="643.83" y="164.45" width="5.60" height="5.60" fill="#00b050"/>
<rect x="657.90" y="158.27" width="5.60" height="5.60" fill="#00b050"/>
<rect x="671.98" y="152.21" width="5.60" height="5.60" fill="#00b050"/>
<rect x="686.05" y="145.21" width="5.60" height="5.60" fill="#00b050"/>
<rect x="700.12" y="137.19" width="5.60" height="5.60" fill="#00b050"/>
<rect x="714.20" y="129.37" width="5.60" height="5.60" fill="#00b050"/>
<path d="M446.1 8.50H460.5" stroke="#000000" stroke-width="1"/>
<rect x="451.00" y="6.20" width="4.60" height="4.60" fill="#000000"/>
<g transform="translate(462.00 12.90) scale(1.04 1.07)"><text><tspan x="0.00 8.65 17.31 25.96 29.81 37.50 41.35 50.00 57.69 65.38 69.23 73.08 79.81 86.54 90.38 99.04 102.88 114.42" y="0">PUR + PZT (40 wt%)</tspan></text></g>
<path d="M446.1 21.80H460.5" stroke="#ff0000" stroke-width="1"/>
<path d="M453.30 18.90L456.20 21.80L453.30 24.70L450.40 21.80Z" fill="#ff0000"/>
<g transform="translate(462.00 26.20) scale(1.04 1.07)"><text><tspan x="0.00 8.65 17.31 25.96 29.81 37.50 41.35 50.00 57.69 65.38 69.23 73.08 79.81 86.54 90.38 99.04 102.88 114.42 118.27 122.12 129.81 133.65 142.31 146.15 150.00 156.73 160.58 169.23 173.08 184.62" y="0">PUR + PZT (40 wt%) + C (  wt%)</tspan></text><path class="o" transform="translate(150.00 0) scale(0.006348 -0.006348)" d="M763 0h-180v1147q-65 -62 -170.5 -124t-189.5 -93v174q151 71 263.5 171.5t159.5 196.5h117v-1472z"/></g>
<path d="M446.1 35.10H460.5" stroke="#7030a0" stroke-width="1"/>
<path d="M453.30 32.20L456.20 37.56L450.40 37.56Z" fill="#7030a0"/>
<g transform="translate(462.00 39.50) scale(1.04 1.07)"><text><tspan x="0.00 8.65 17.31 25.96 29.81 37.50 41.35 50.00 57.69 65.38 69.23 73.08 79.81 86.54 90.38 99.04 102.88 114.42 118.27 122.12 129.81 133.65 142.31 146.15 150.00 156.73 160.58 169.23 173.08 184.62" y="0">PUR + PZT (40 wt%) + C (2 wt%)</tspan></text></g>
<path d="M446.1 48.40H460.5" stroke="#00b0f0" stroke-width="1"/>
<circle cx="453.30" cy="48.40" r="2.10" fill="#00b0f0"/>
<g transform="translate(462.00 52.80) scale(1.04 1.07)"><text><tspan x="0.00 8.65 17.31 25.96 29.81 37.50 41.35 50.00 57.69 65.38 69.23 73.08 79.81 86.54 90.38 99.04 102.88 114.42 118.27 122.12 129.81 133.65 142.31 146.15 150.00 156.73 160.58 169.23 173.08 184.62" y="0">PUR + PZT (40 wt%) + C (5 wt%)</tspan></text></g>
<path d="M446.1 61.70H460.5" stroke="#00b050" stroke-width="1"/>
<rect x="450.50" y="58.90" width="5.60" height="5.60" fill="#00b050"/>
<g transform="translate(462.00 66.10) scale(1.04 1.07)"><text><tspan x="0.00 8.65 17.31 25.96 29.81 37.50 41.35 50.00 57.69 65.38 69.23 73.08 79.81 86.54 90.38 99.04 102.88 114.42 118.27 122.12 129.81 133.65 142.31 146.15 150.00 156.73 163.46 167.31 175.96 179.81 191.35" y="0">PUR + PZT (40 wt%) + C ( 0 wt%)</tspan></text><path class="o" transform="translate(150.00 0) scale(0.006348 -0.006348)" d="M763 0h-180v1147q-65 -62 -170.5 -124t-189.5 -93v174q151 71 263.5 171.5t159.5 196.5h117v-1472z"/></g>
<path d="M45.5 297.0V501.9M42.1 498.5H326.0" stroke="#444444" stroke-width="1" fill="none"/>
<path d="M42.1 498.50H45.5" stroke="#444444" stroke-width="1"/>
<g transform="translate(34.30 503.00) scale(1.04 1.07)"><text><tspan x="-6.73" y="0">0</tspan></text></g>
<path d="M42.1 464.50H45.5" stroke="#444444" stroke-width="1"/>
<g transform="translate(34.30 469.42) scale(1.04 1.07)"><text><tspan x="-6.73" y="0">2</tspan></text></g>
<path d="M42.1 431.50H45.5" stroke="#444444" stroke-width="1"/>
<g transform="translate(34.30 435.83) scale(1.04 1.07)"><text><tspan x="-6.73" y="0">4</tspan></text></g>
<path d="M42.1 397.50H45.5" stroke="#444444" stroke-width="1"/>
<g transform="translate(34.30 402.25) scale(1.04 1.07)"><text><tspan x="-6.73" y="0">6</tspan></text></g>
<path d="M42.1 364.50H45.5" stroke="#444444" stroke-width="1"/>
<g transform="translate(34.30 368.67) scale(1.04 1.07)"><text><tspan x="-6.73" y="0">8</tspan></text></g>
<path d="M42.1 330.50H45.5" stroke="#444444" stroke-width="1"/>
<g transform="translate(34.30 335.08) scale(1.04 1.07)"><text><tspan x="-13.46 -6.73" y="0"> 0</tspan></text><path class="o" transform="translate(-13.46 0) scale(0.006348 -0.006348)" d="M763 0h-180v1147q-65 -62 -170.5 -124t-189.5 -93v174q151 71 263.5 171.5t159.5 196.5h117v-1472z"/></g>
<path d="M42.1 297.50H45.5" stroke="#444444" stroke-width="1"/>
<g transform="translate(34.30 301.50) scale(1.04 1.07)"><text><tspan x="-13.46 -6.73" y="0"> 2</tspan></text><path class="o" transform="translate(-13.46 0) scale(0.006348 -0.006348)" d="M763 0h-180v1147q-65 -62 -170.5 -124t-189.5 -93v174q151 71 263.5 171.5t159.5 196.5h117v-1472z"/></g>
<path d="M45.50 498.5V501.9" stroke="#444444" stroke-width="1"/>
<g transform="translate(43.70 519.00) scale(1.04 1.07)"><text><tspan x="-3.37" y="0">0</tspan></text></g>
<path d="M101.60 498.5V501.9" stroke="#444444" stroke-width="1"/>
<g transform="translate(99.80 519.00) scale(1.04 1.07)"><text><tspan x="-8.65 -1.92 1.92" y="0">0.2</tspan></text></g>
<path d="M157.70 498.5V501.9" stroke="#444444" stroke-width="1"/>
<g transform="translate(155.00 519.00) scale(1.04 1.07)"><text><tspan x="-8.65 -1.92 1.92" y="0">0.4</tspan></text></g>
<path d="M213.80 498.5V501.9" stroke="#444444" stroke-width="1"/>
<g transform="translate(209.70 519.00) scale(1.04 1.07)"><text><tspan x="-8.65 -1.92 1.92" y="0">0.6</tspan></text></g>
<path d="M269.90 498.5V501.9" stroke="#444444" stroke-width="1"/>
<g transform="translate(268.20 519.00) scale(1.04 1.07)"><text><tspan x="-8.65 -1.92 1.92" y="0">0.8</tspan></text></g>
<path d="M326.00 498.5V501.9" stroke="#444444" stroke-width="1"/>
<g transform="translate(327.20 519.00) scale(1.04 1.07)"><text><tspan x="-8.65 -1.92 1.92" y="0"> .0</tspan></text><path class="o" transform="translate(-8.65 0) scale(0.006348 -0.006348)" d="M763 0h-180v1147q-65 -62 -170.5 -124t-189.5 -93v174q151 71 263.5 171.5t159.5 196.5h117v-1472z"/></g>
<g transform="translate(176.90 533.10) scale(1.04 1.07)"><text><tspan x="-72.60 -63.94 -57.21 -54.33 -47.60 -43.75 -40.87 -34.13 -27.40 -23.56 -16.83 -10.10 0.48 7.21 11.06 17.79 24.52 31.25 34.13 40.87 47.60 51.44 55.29 62.02 65.87" y="0">Relative compression, x/d</tspan></text></g>
<g transform="translate(180.00 549.80) scale(1.04 1.07)"><text><tspan x="-7.21 -3.37 3.37" y="0">(c)</tspan></text></g>
<g transform="translate(12.80 390.20) rotate(-90) scale(1.04 1.07)"><text><tspan x="-61.68 -53.27 -46.73 -43.93 -37.38 -33.65 -30.84 -24.30 -17.76 -14.02 -7.48 -0.93 2.80 13.08 15.89 19.63 23.37 26.17 32.71 35.52 39.25 45.80 49.53 53.27" y="0">Relative permittivity, ε</tspan><tspan x="58.88" y="3" font-size="9">r</tspan></text></g>
<path d="M83.75 450.98C85.88 451.32 92.25 452.52 96.50 452.99C100.75 453.47 105.00 452.94 109.25 453.83C113.50 454.73 117.75 457.08 122.00 458.37C126.25 459.66 130.50 460.66 134.75 461.56C139.00 462.45 143.25 463.01 147.50 463.74C151.75 464.47 156.00 465.39 160.25 465.92C164.50 466.46 168.75 466.46 173.00 466.93C177.25 467.41 181.50 468.39 185.75 468.78C190.00 469.17 194.25 469.03 198.50 469.28C202.75 469.53 207.00 469.84 211.25 470.29C215.50 470.74 219.75 471.61 224.00 471.97C228.25 472.33 232.50 472.22 236.75 472.47C241.00 472.72 245.25 473.03 249.50 473.48C253.75 473.93 258.00 474.63 262.25 475.16C266.50 475.69 270.75 476.20 275.00 476.67C279.25 477.15 283.50 477.59 287.75 478.01C292.00 478.43 296.25 478.99 300.50 479.19C304.75 479.39 309.00 478.94 313.25 479.19C317.50 479.44 323.88 480.45 326.00 480.70" stroke="#000000" stroke-width="1" fill="none"/>
<path d="M77.87 430.66C79.66 431.36 85.06 433.07 88.65 434.86C92.25 436.65 95.85 439.73 99.44 441.41C103.04 443.09 106.63 443.76 110.23 444.93C113.83 446.11 117.42 447.34 121.02 448.46C124.62 449.58 128.21 450.67 131.81 451.65C135.40 452.63 139.00 453.47 142.60 454.34C146.19 455.21 149.79 456.10 153.38 456.86C156.98 457.61 160.58 458.28 164.17 458.87C167.77 459.46 171.37 459.91 174.96 460.38C178.56 460.86 182.15 461.33 185.75 461.73C189.35 462.12 192.94 462.23 196.54 462.73C200.13 463.24 203.73 464.16 207.33 464.75C210.92 465.34 214.52 465.73 218.12 466.26C221.71 466.79 225.31 467.32 228.90 467.94C232.50 468.55 236.10 469.45 239.69 469.95C243.29 470.46 246.88 470.63 250.48 470.96C254.08 471.30 257.67 471.55 261.27 471.97C264.87 472.39 268.46 472.95 272.06 473.48C275.65 474.01 279.25 474.57 282.85 475.16C286.44 475.75 290.04 476.45 293.63 477.01C297.23 477.57 300.83 477.79 304.42 478.52C308.02 479.25 311.62 480.67 315.21 481.37C318.81 482.07 324.20 482.49 326.00 482.72" stroke="#ff0000" stroke-width="1" fill="none"/>
<path d="M80.56 426.46C82.51 427.56 88.35 431.61 92.25 433.01C96.15 434.41 100.04 433.96 103.94 434.86C107.83 435.76 111.73 437.04 115.62 438.39C119.52 439.73 123.42 441.32 127.31 442.92C131.21 444.51 135.10 446.56 139.00 447.96C142.90 449.36 146.79 450.34 150.69 451.32C154.58 452.29 158.48 452.88 162.38 453.83C166.27 454.79 170.17 456.19 174.06 457.02C177.96 457.86 181.85 458.37 185.75 458.87C189.65 459.38 193.54 459.60 197.44 460.05C201.33 460.49 205.23 460.97 209.12 461.56C213.02 462.15 216.92 463.04 220.81 463.57C224.71 464.11 228.60 464.30 232.50 464.75C236.40 465.20 240.29 465.56 244.19 466.26C248.08 466.96 251.98 468.44 255.88 468.95C259.77 469.45 263.67 468.97 267.56 469.28C271.46 469.59 275.35 470.37 279.25 470.79C283.15 471.21 287.04 471.35 290.94 471.80C294.83 472.25 298.73 473.37 302.62 473.48C306.52 473.59 310.42 472.31 314.31 472.47C318.21 472.64 324.05 474.15 326.00 474.49" stroke="#7030a0" stroke-width="1" fill="none"/>
<path d="M92.25 388.18C94.20 390.42 100.04 396.55 103.94 401.61C107.83 406.68 111.73 414.35 115.62 418.57C119.52 422.80 123.42 424.25 127.31 426.97C131.21 429.68 135.10 432.79 139.00 434.86C142.90 436.93 146.79 437.29 150.69 439.39C154.58 441.49 158.48 445.80 162.38 447.45C166.27 449.10 170.17 449.02 174.06 449.30C177.96 449.58 181.85 448.54 185.75 449.13C189.65 449.72 193.54 452.04 197.44 452.83C201.33 453.61 205.23 453.25 209.12 453.83C213.02 454.42 216.92 455.74 220.81 456.35C224.71 456.97 228.60 457.08 232.50 457.53C236.40 457.98 240.29 458.45 244.19 459.04C248.08 459.63 251.98 460.63 255.88 461.05C259.77 461.47 263.67 461.22 267.56 461.56C271.46 461.89 275.35 462.45 279.25 463.07C283.15 463.69 287.04 464.66 290.94 465.25C294.83 465.84 298.73 466.09 302.62 466.60C306.52 467.10 310.42 467.58 314.31 468.27C318.21 468.97 324.05 470.37 326.00 470.79" stroke="#00b0f0" stroke-width="1" fill="none"/>
<path d="M101.60 317.32C103.94 324.01 110.95 346.20 115.62 357.45C120.30 368.70 124.97 377.46 129.65 384.82C134.32 392.18 139.00 393.86 143.68 401.61C148.35 409.36 153.02 425.71 157.70 431.33C162.38 436.96 167.05 434.27 171.73 435.36C176.40 436.45 181.07 437.07 185.75 437.88C190.43 438.69 195.10 439.48 199.78 440.23C204.45 440.99 209.12 441.88 213.80 442.42C218.47 442.95 223.15 443.03 227.83 443.42C232.50 443.82 237.18 444.35 241.85 444.77C246.52 445.19 251.20 445.38 255.88 445.94C260.55 446.50 265.22 447.59 269.90 448.12C274.57 448.66 279.25 448.71 283.92 449.13C288.60 449.55 293.28 450.03 297.95 450.64C302.63 451.26 307.30 452.07 311.97 452.83C316.65 453.58 323.66 454.79 326.00 455.18" stroke="#00b050" stroke-width="1" fill="none"/>
<rect x="81.75" y="448.98" width="4.00" height="4.00" fill="#000000"/>
<rect x="94.50" y="450.99" width="4.00" height="4.00" fill="#000000"/>
<rect x="107.25" y="451.83" width="4.00" height="4.00" fill="#000000"/>
<rect x="120.00" y="456.37" width="4.00" height="4.00" fill="#000000"/>
<rect x="132.75" y="459.56" width="4.00" height="4.00" fill="#000000"/>
<rect x="145.50" y="461.74" width="4.00" height="4.00" fill="#000000"/>
<rect x="158.25" y="463.92" width="4.00" height="4.00" fill="#000000"/>
<rect x="171.00" y="464.93" width="4.00" height="4.00" fill="#000000"/>
<rect x="183.75" y="466.78" width="4.00" height="4.00" fill="#000000"/>
<rect x="196.50" y="467.28" width="4.00" height="4.00" fill="#000000"/>
<rect x="209.25" y="468.29" width="4.00" height="4.00" fill="#000000"/>
<rect x="222.00" y="469.97" width="4.00" height="4.00" fill="#000000"/>
<rect x="234.75" y="470.47" width="4.00" height="4.00" fill="#000000"/>
<rect x="247.50" y="471.48" width="4.00" height="4.00" fill="#000000"/>
<rect x="260.25" y="473.16" width="4.00" height="4.00" fill="#000000"/>
<rect x="273.00" y="474.67" width="4.00" height="4.00" fill="#000000"/>
<rect x="285.75" y="476.01" width="4.00" height="4.00" fill="#000000"/>
<rect x="298.50" y="477.19" width="4.00" height="4.00" fill="#000000"/>
<rect x="311.25" y="477.19" width="4.00" height="4.00" fill="#000000"/>
<rect x="324.00" y="478.70" width="4.00" height="4.00" fill="#000000"/>
<path d="M77.87 427.76L80.77 430.66L77.87 433.56L74.97 430.66Z" fill="#ff0000"/>
<path d="M88.65 431.96L91.55 434.86L88.65 437.76L85.75 434.86Z" fill="#ff0000"/>
<path d="M99.44 438.51L102.34 441.41L99.44 444.31L96.54 441.41Z" fill="#ff0000"/>
<path d="M110.23 442.03L113.13 444.93L110.23 447.83L107.33 444.93Z" fill="#ff0000"/>
<path d="M121.02 445.56L123.92 448.46L121.02 451.36L118.12 448.46Z" fill="#ff0000"/>
<path d="M131.81 448.75L134.71 451.65L131.81 454.55L128.91 451.65Z" fill="#ff0000"/>
<path d="M142.60 451.44L145.50 454.34L142.60 457.24L139.70 454.34Z" fill="#ff0000"/>
<path d="M153.38 453.96L156.28 456.86L153.38 459.76L150.48 456.86Z" fill="#ff0000"/>
<path d="M164.17 455.97L167.07 458.87L164.17 461.77L161.27 458.87Z" fill="#ff0000"/>
<path d="M174.96 457.48L177.86 460.38L174.96 463.28L172.06 460.38Z" fill="#ff0000"/>
<path d="M185.75 458.83L188.65 461.73L185.75 464.63L182.85 461.73Z" fill="#ff0000"/>
<path d="M196.54 459.83L199.44 462.73L196.54 465.63L193.64 462.73Z" fill="#ff0000"/>
<path d="M207.33 461.85L210.23 464.75L207.33 467.65L204.43 464.75Z" fill="#ff0000"/>
<path d="M218.12 463.36L221.02 466.26L218.12 469.16L215.22 466.26Z" fill="#ff0000"/>
<path d="M228.90 465.04L231.80 467.94L228.90 470.84L226.00 467.94Z" fill="#ff0000"/>
<path d="M239.69 467.05L242.59 469.95L239.69 472.85L236.79 469.95Z" fill="#ff0000"/>
<path d="M250.48 468.06L253.38 470.96L250.48 473.86L247.58 470.96Z" fill="#ff0000"/>
<path d="M261.27 469.07L264.17 471.97L261.27 474.87L258.37 471.97Z" fill="#ff0000"/>
<path d="M272.06 470.58L274.96 473.48L272.06 476.38L269.16 473.48Z" fill="#ff0000"/>
<path d="M282.85 472.26L285.75 475.16L282.85 478.06L279.95 475.16Z" fill="#ff0000"/>
<path d="M293.63 474.11L296.53 477.01L293.63 479.91L290.73 477.01Z" fill="#ff0000"/>
<path d="M304.42 475.62L307.32 478.52L304.42 481.42L301.52 478.52Z" fill="#ff0000"/>
<path d="M315.21 478.47L318.11 481.37L315.21 484.27L312.31 481.37Z" fill="#ff0000"/>
<path d="M326.00 479.82L328.90 482.72L326.00 485.62L323.10 482.72Z" fill="#ff0000"/>
<path d="M80.56 423.56L83.46 428.93L77.66 428.93Z" fill="#7030a0"/>
<path d="M92.25 430.11L95.15 435.48L89.35 435.48Z" fill="#7030a0"/>
<path d="M103.94 431.96L106.84 437.32L101.04 437.32Z" fill="#7030a0"/>
<path d="M115.62 435.49L118.53 440.85L112.72 440.85Z" fill="#7030a0"/>
<path d="M127.31 440.02L130.21 445.38L124.41 445.38Z" fill="#7030a0"/>
<path d="M139.00 445.06L141.90 450.42L136.10 450.42Z" fill="#7030a0"/>
<path d="M150.69 448.42L153.59 453.78L147.79 453.78Z" fill="#7030a0"/>
<path d="M162.38 450.93L165.28 456.30L159.47 456.30Z" fill="#7030a0"/>
<path d="M174.06 454.12L176.96 459.49L171.16 459.49Z" fill="#7030a0"/>
<path d="M185.75 455.97L188.65 461.34L182.85 461.34Z" fill="#7030a0"/>
<path d="M197.44 457.15L200.34 462.51L194.54 462.51Z" fill="#7030a0"/>
<path d="M209.12 458.66L212.03 464.02L206.22 464.02Z" fill="#7030a0"/>
<path d="M220.81 460.67L223.71 466.04L217.91 466.04Z" fill="#7030a0"/>
<path d="M232.50 461.85L235.40 467.21L229.60 467.21Z" fill="#7030a0"/>
<path d="M244.19 463.36L247.09 468.72L241.29 468.72Z" fill="#7030a0"/>
<path d="M255.88 466.05L258.77 471.41L252.97 471.41Z" fill="#7030a0"/>
<path d="M267.56 466.38L270.46 471.75L264.66 471.75Z" fill="#7030a0"/>
<path d="M279.25 467.89L282.15 473.26L276.35 473.26Z" fill="#7030a0"/>
<path d="M290.94 468.90L293.84 474.27L288.04 474.27Z" fill="#7030a0"/>
<path d="M302.62 470.58L305.52 475.95L299.73 475.95Z" fill="#7030a0"/>
<path d="M314.31 469.57L317.21 474.94L311.41 474.94Z" fill="#7030a0"/>
<path d="M326.00 471.59L328.90 476.95L323.10 476.95Z" fill="#7030a0"/>
<circle cx="92.25" cy="388.18" r="2.10" fill="#00b0f0"/>
<circle cx="103.94" cy="401.61" r="2.10" fill="#00b0f0"/>
<circle cx="115.62" cy="418.57" r="2.10" fill="#00b0f0"/>
<circle cx="127.31" cy="426.97" r="2.10" fill="#00b0f0"/>
<circle cx="139.00" cy="434.86" r="2.10" fill="#00b0f0"/>
<circle cx="150.69" cy="439.39" r="2.10" fill="#00b0f0"/>
<circle cx="162.38" cy="447.45" r="2.10" fill="#00b0f0"/>
<circle cx="174.06" cy="449.30" r="2.10" fill="#00b0f0"/>
<circle cx="185.75" cy="449.13" r="2.10" fill="#00b0f0"/>
<circle cx="197.44" cy="452.83" r="2.10" fill="#00b0f0"/>
<circle cx="209.12" cy="453.83" r="2.10" fill="#00b0f0"/>
<circle cx="220.81" cy="456.35" r="2.10" fill="#00b0f0"/>
<circle cx="232.50" cy="457.53" r="2.10" fill="#00b0f0"/>
<circle cx="244.19" cy="459.04" r="2.10" fill="#00b0f0"/>
<circle cx="255.88" cy="461.05" r="2.10" fill="#00b0f0"/>
<circle cx="267.56" cy="461.56" r="2.10" fill="#00b0f0"/>
<circle cx="279.25" cy="463.07" r="2.10" fill="#00b0f0"/>
<circle cx="290.94" cy="465.25" r="2.10" fill="#00b0f0"/>
<circle cx="302.62" cy="466.60" r="2.10" fill="#00b0f0"/>
<circle cx="314.31" cy="468.27" r="2.10" fill="#00b0f0"/>
<circle cx="326.00" cy="470.79" r="2.10" fill="#00b0f0"/>
<rect x="98.80" y="314.52" width="5.60" height="5.60" fill="#00b050"/>
<rect x="112.83" y="354.65" width="5.60" height="5.60" fill="#00b050"/>
<rect x="126.85" y="382.02" width="5.60" height="5.60" fill="#00b050"/>
<rect x="140.88" y="398.81" width="5.60" height="5.60" fill="#00b050"/>
<rect x="154.90" y="428.53" width="5.60" height="5.60" fill="#00b050"/>
<rect x="168.93" y="432.56" width="5.60" height="5.60" fill="#00b050"/>
<rect x="182.95" y="435.08" width="5.60" height="5.60" fill="#00b050"/>
<rect x="196.97" y="437.43" width="5.60" height="5.60" fill="#00b050"/>
<rect x="211.00" y="439.62" width="5.60" height="5.60" fill="#00b050"/>
<rect x="225.03" y="440.62" width="5.60" height="5.60" fill="#00b050"/>
<rect x="239.05" y="441.97" width="5.60" height="5.60" fill="#00b050"/>
<rect x="253.07" y="443.14" width="5.60" height="5.60" fill="#00b050"/>
<rect x="267.10" y="445.32" width="5.60" height="5.60" fill="#00b050"/>
<rect x="281.12" y="446.33" width="5.60" height="5.60" fill="#00b050"/>
<rect x="295.15" y="447.84" width="5.60" height="5.60" fill="#00b050"/>
<rect x="309.17" y="450.03" width="5.60" height="5.60" fill="#00b050"/>
<rect x="323.20" y="452.38" width="5.60" height="5.60" fill="#00b050"/>
<path d="M111.1 291.90H126.0" stroke="#000000" stroke-width="1"/>
<rect x="116.25" y="289.60" width="4.60" height="4.60" fill="#000000"/>
<g transform="translate(127.50 296.30) scale(1.04 1.07)"><text><tspan x="0.00 8.65 17.31 25.96 29.81 37.50 41.35 50.00 57.69 65.38 69.23 73.08 79.81 86.54 90.38 99.04 102.88 114.42" y="0">PUR + PZT (40 wt%)</tspan></text></g>
<path d="M111.1 306.20H126.0" stroke="#ff0000" stroke-width="1"/>
<path d="M118.55 303.30L121.45 306.20L118.55 309.10L115.65 306.20Z" fill="#ff0000"/>
<g transform="translate(127.50 310.60) scale(1.04 1.07)"><text><tspan x="0.00 8.65 17.31 25.96 29.81 37.50 41.35 50.00 57.69 65.38 69.23 73.08 79.81 86.54 90.38 99.04 102.88 114.42 118.27 122.12 129.81 133.65 142.31 146.15 150.00 156.73 160.58 169.23 173.08 184.62" y="0">PUR + PZT (40 wt%) + C (  wt%)</tspan></text><path class="o" transform="translate(150.00 0) scale(0.006348 -0.006348)" d="M763 0h-180v1147q-65 -62 -170.5 -124t-189.5 -93v174q151 71 263.5 171.5t159.5 196.5h117v-1472z"/></g>
<path d="M111.1 320.50H126.0" stroke="#7030a0" stroke-width="1"/>
<path d="M118.55 317.60L121.45 322.96L115.65 322.96Z" fill="#7030a0"/>
<g transform="translate(127.50 324.90) scale(1.04 1.07)"><text><tspan x="0.00 8.65 17.31 25.96 29.81 37.50 41.35 50.00 57.69 65.38 69.23 73.08 79.81 86.54 90.38 99.04 102.88 114.42 118.27 122.12 129.81 133.65 142.31 146.15 150.00 156.73 160.58 169.23 173.08 184.62" y="0">PUR + PZT (40 wt%) + C (2 wt%)</tspan></text></g>
<path d="M111.1 334.80H126.0" stroke="#00b0f0" stroke-width="1"/>
<circle cx="118.55" cy="334.80" r="2.10" fill="#00b0f0"/>
<g transform="translate(127.50 339.20) scale(1.04 1.07)"><text><tspan x="0.00 8.65 17.31 25.96 29.81 37.50 41.35 50.00 57.69 65.38 69.23 73.08 79.81 86.54 90.38 99.04 102.88 114.42 118.27 122.12 129.81 133.65 142.31 146.15 150.00 156.73 160.58 169.23 173.08 184.62" y="0">PUR + PZT (40 wt%) + C (5 wt%)</tspan></text></g>
<path d="M111.1 349.10H126.0" stroke="#00b050" stroke-width="1"/>
<rect x="115.75" y="346.30" width="5.60" height="5.60" fill="#00b050"/>
<g transform="translate(127.50 353.50) scale(1.04 1.07)"><text><tspan x="0.00 8.65 17.31 25.96 29.81 37.50 41.35 50.00 57.69 65.38 69.23 73.08 79.81 86.54 90.38 99.04 102.88 114.42 118.27 122.12 129.81 133.65 142.31 146.15 150.00 156.73 163.46 167.31 175.96 179.81 191.35" y="0">PUR + PZT (40 wt%) + C ( 0 wt%)</tspan></text><path class="o" transform="translate(150.00 0) scale(0.006348 -0.006348)" d="M763 0h-180v1147q-65 -62 -170.5 -124t-189.5 -93v174q151 71 263.5 171.5t159.5 196.5h117v-1472z"/></g>
<path d="M435.5 293.2V500.9M432.1 497.5H697.8" stroke="#444444" stroke-width="1" fill="none"/>
<path d="M432.1 497.50H435.5" stroke="#444444" stroke-width="1"/>
<g transform="translate(424.30 499.90) scale(1.04 1.07)"><text><tspan x="-30.77 -24.04 -20.19 -13.46 -6.73" y="0">0.000</tspan></text></g>
<path d="M432.1 470.50H435.5" stroke="#444444" stroke-width="1"/>
<g transform="translate(424.30 472.66) scale(1.04 1.07)"><text><tspan x="-30.77 -24.04 -20.19 -13.46 -6.73" y="0">0.0 0</tspan></text><path class="o" transform="translate(-13.46 0) scale(0.006348 -0.006348)" d="M763 0h-180v1147q-65 -62 -170.5 -124t-189.5 -93v174q151 71 263.5 171.5t159.5 196.5h117v-1472z"/></g>
<path d="M432.1 443.50H435.5" stroke="#444444" stroke-width="1"/>
<g transform="translate(424.30 445.41) scale(1.04 1.07)"><text><tspan x="-30.77 -24.04 -20.19 -13.46 -6.73" y="0">0.020</tspan></text></g>
<path d="M432.1 415.50H435.5" stroke="#444444" stroke-width="1"/>
<g transform="translate(424.30 418.17) scale(1.04 1.07)"><text><tspan x="-30.77 -24.04 -20.19 -13.46 -6.73" y="0">0.030</tspan></text></g>
<path d="M432.1 388.50H435.5" stroke="#444444" stroke-width="1"/>
<g transform="translate(424.30 390.93) scale(1.04 1.07)"><text><tspan x="-30.77 -24.04 -20.19 -13.46 -6.73" y="0">0.040</tspan></text></g>
<path d="M432.1 361.50H435.5" stroke="#444444" stroke-width="1"/>
<g transform="translate(424.30 363.69) scale(1.04 1.07)"><text><tspan x="-30.77 -24.04 -20.19 -13.46 -6.73" y="0">0.050</tspan></text></g>
<path d="M432.1 334.50H435.5" stroke="#444444" stroke-width="1"/>
<g transform="translate(424.30 336.44) scale(1.04 1.07)"><text><tspan x="-30.77 -24.04 -20.19 -13.46 -6.73" y="0">0.060</tspan></text></g>
<path d="M432.1 306.50H435.5" stroke="#444444" stroke-width="1"/>
<g transform="translate(424.30 309.20) scale(1.04 1.07)"><text><tspan x="-30.77 -24.04 -20.19 -13.46 -6.73" y="0">0.070</tspan></text></g>
<path d="M435.50 497.5V500.9" stroke="#444444" stroke-width="1"/>
<g transform="translate(436.30 518.10) scale(1.04 1.07)"><text><tspan x="-3.37" y="0">0</tspan></text></g>
<path d="M487.96 497.5V500.9" stroke="#444444" stroke-width="1"/>
<g transform="translate(489.20 518.10) scale(1.04 1.07)"><text><tspan x="-8.65 -1.92 1.92" y="0">0.2</tspan></text></g>
<path d="M540.42 497.5V500.9" stroke="#444444" stroke-width="1"/>
<g transform="translate(540.40 518.10) scale(1.04 1.07)"><text><tspan x="-8.65 -1.92 1.92" y="0">0.4</tspan></text></g>
<path d="M592.88 497.5V500.9" stroke="#444444" stroke-width="1"/>
<g transform="translate(595.40 518.10) scale(1.04 1.07)"><text><tspan x="-8.65 -1.92 1.92" y="0">0.6</tspan></text></g>
<path d="M645.34 497.5V500.9" stroke="#444444" stroke-width="1"/>
<g transform="translate(646.10 518.10) scale(1.04 1.07)"><text><tspan x="-8.65 -1.92 1.92" y="0">0.8</tspan></text></g>
<path d="M697.80 497.5V500.9" stroke="#444444" stroke-width="1"/>
<g transform="translate(698.20 518.10) scale(1.04 1.07)"><text><tspan x="-8.65 -1.92 1.92" y="0"> .0</tspan></text><path class="o" transform="translate(-8.65 0) scale(0.006348 -0.006348)" d="M763 0h-180v1147q-65 -62 -170.5 -124t-189.5 -93v174q151 71 263.5 171.5t159.5 196.5h117v-1472z"/></g>
<g transform="translate(563.00 533.10) scale(1.04 1.07)"><text><tspan x="-72.60 -63.94 -57.21 -54.33 -47.60 -43.75 -40.87 -34.13 -27.40 -23.56 -16.83 -10.10 0.48 7.21 11.06 17.79 24.52 31.25 34.13 40.87 47.60 51.44 55.29 62.02 65.87" y="0">Relative compression, x/d</tspan></text></g>
<g transform="translate(568.60 549.80) scale(1.04 1.07)"><text><tspan x="-7.21 -3.37 3.37" y="0">(d)</tspan></text></g>
<g transform="translate(375.70 459.00) rotate(-90) scale(1.04 1.07)"><text><tspan x="0.00 8.46 11.28 17.87 20.69 27.27 33.85 37.62 41.38 44.20 50.78 54.54 57.36 63.95 70.53 77.11 80.87 84.63 88.40 94.98" y="0">Dielectric loss, tan</tspan><tspan x="102.50 106.26" y="0"> δ</tspan></text></g>
<path d="M471.27 411.96C473.26 413.18 479.22 417.04 483.19 419.31C487.17 421.58 491.14 423.54 495.11 425.58C499.09 427.62 503.06 429.98 507.04 431.57C511.01 433.16 514.98 434.34 518.96 435.11C522.93 435.89 526.91 435.75 530.88 436.20C534.86 436.66 538.83 437.79 542.80 437.84C546.78 437.88 550.75 436.70 554.73 436.48C558.70 436.25 562.68 436.34 566.65 436.48C570.62 436.61 574.60 437.61 578.57 437.29C582.55 436.98 586.52 435.66 590.50 434.57C594.47 433.48 598.44 432.30 602.42 430.75C606.39 429.21 610.37 426.90 614.34 425.31C618.32 423.72 622.29 423.26 626.26 421.22C630.24 419.18 634.21 414.59 638.19 413.05C642.16 411.50 646.13 411.09 650.11 411.96C654.08 412.82 658.06 418.54 662.03 418.22C666.01 417.91 669.98 414.55 673.95 410.05C677.93 405.56 681.90 392.43 685.88 391.25C689.85 390.07 695.81 401.01 697.80 402.97" stroke="#000000" stroke-width="1" fill="none"/>
<path d="M475.85 419.31C477.54 420.08 482.58 422.45 485.94 423.94C489.31 425.44 492.67 426.99 496.03 428.30C499.39 429.62 502.76 431.21 506.12 431.84C509.48 432.48 512.84 431.94 516.21 432.12C519.57 432.30 522.93 432.25 526.30 432.93C529.66 433.62 533.02 435.84 536.38 436.20C539.75 436.57 543.11 436.16 546.47 435.11C549.84 434.07 553.20 431.07 556.56 429.94C559.92 428.80 563.29 429.26 566.65 428.30C570.01 427.35 573.38 425.12 576.74 424.22C580.10 423.31 583.46 422.76 586.83 422.85C590.19 422.95 593.55 425.67 596.92 424.76C600.28 423.85 603.64 418.86 607.00 417.41C610.37 415.95 613.73 417.59 617.09 416.04C620.46 414.50 623.82 410.60 627.18 408.14C630.54 405.69 633.91 403.29 637.27 401.33C640.63 399.38 643.99 398.11 647.36 396.43C650.72 394.75 654.08 393.52 657.45 391.25C660.81 388.98 664.17 384.03 667.53 382.81C670.90 381.58 674.26 385.12 677.62 383.90C680.99 382.67 684.35 376.81 687.71 375.45C691.07 374.09 696.12 375.68 697.80 375.72" stroke="#ff0000" stroke-width="1" fill="none"/>
<path d="M468.29 409.78C470.11 410.41 475.57 412.14 479.22 413.59C482.86 415.04 486.50 417.00 490.15 418.50C493.79 419.99 497.43 421.36 501.07 422.58C504.72 423.81 508.36 424.85 512.00 425.85C515.65 426.85 519.29 427.94 522.93 428.58C526.58 429.21 530.22 429.48 533.86 429.67C537.51 429.85 541.15 429.80 544.79 429.67C548.43 429.53 552.08 429.12 555.72 428.85C559.36 428.58 563.01 428.17 566.65 428.03C570.29 427.89 573.94 428.58 577.58 428.03C581.22 427.49 584.87 426.21 588.51 424.76C592.15 423.31 595.79 420.18 599.44 419.31C603.08 418.45 606.72 420.45 610.37 419.59C614.01 418.72 617.65 415.54 621.30 414.14C624.94 412.73 628.58 411.37 632.22 411.14C635.87 410.91 639.51 414.50 643.15 412.77C646.80 411.05 650.44 402.97 654.08 400.79C657.73 398.61 661.37 400.33 665.01 399.70C668.66 399.06 672.30 398.47 675.94 396.97C679.58 395.48 683.23 394.43 686.87 390.71C690.51 386.98 695.98 377.31 697.80 374.63" stroke="#7030a0" stroke-width="1" fill="none"/>
<path d="M468.29 407.87C470.11 408.69 475.57 411.23 479.22 412.77C482.86 414.32 486.50 415.82 490.15 417.13C493.79 418.45 497.43 419.77 501.07 420.68C504.72 421.58 508.36 421.95 512.00 422.58C515.65 423.22 519.29 424.17 522.93 424.49C526.58 424.81 530.22 424.26 533.86 424.49C537.51 424.72 541.15 425.49 544.79 425.85C548.43 426.21 552.08 426.90 555.72 426.67C559.36 426.44 563.01 425.40 566.65 424.49C570.29 423.58 573.94 421.86 577.58 421.22C581.22 420.58 584.87 421.54 588.51 420.68C592.15 419.81 595.79 416.95 599.44 416.04C603.08 415.14 606.72 415.64 610.37 415.23C614.01 414.82 617.65 415.32 621.30 413.59C624.94 411.87 628.58 406.60 632.22 404.87C635.87 403.15 639.51 404.33 643.15 403.24C646.80 402.15 650.44 399.56 654.08 398.34C657.73 397.11 661.37 397.93 665.01 395.88C668.66 393.84 672.30 388.85 675.94 386.08C679.58 383.31 683.23 380.17 686.87 379.27C690.51 378.36 695.98 380.40 697.80 380.63" stroke="#00b0f0" stroke-width="1" fill="none"/>
<path d="M474.84 389.89C477.03 392.80 483.59 403.65 487.96 407.33C492.33 411.00 496.70 410.60 501.07 411.96C505.45 413.32 509.82 414.64 514.19 415.50C518.56 416.36 522.93 416.27 527.30 417.13C531.68 418.00 536.05 420.22 540.42 420.68C544.79 421.13 549.16 420.22 553.53 419.86C557.91 419.49 562.28 418.86 566.65 418.50C571.02 418.13 575.39 418.18 579.76 417.68C584.14 417.18 588.51 416.36 592.88 415.50C597.25 414.64 601.62 413.27 606.00 412.50C610.37 411.73 614.74 412.05 619.11 410.87C623.48 409.69 627.85 406.51 632.22 405.42C636.60 404.33 640.97 404.83 645.34 404.33C649.71 403.83 654.08 403.74 658.45 402.42C662.83 401.11 667.20 397.70 671.57 396.43C675.94 395.16 680.31 395.75 684.68 394.79C689.06 393.84 695.61 391.39 697.80 390.71" stroke="#00b050" stroke-width="1" fill="none"/>
<rect x="469.27" y="409.96" width="4.00" height="4.00" fill="#000000"/>
<rect x="481.19" y="417.31" width="4.00" height="4.00" fill="#000000"/>
<rect x="493.11" y="423.58" width="4.00" height="4.00" fill="#000000"/>
<rect x="505.04" y="429.57" width="4.00" height="4.00" fill="#000000"/>
<rect x="516.96" y="433.11" width="4.00" height="4.00" fill="#000000"/>
<rect x="528.88" y="434.20" width="4.00" height="4.00" fill="#000000"/>
<rect x="540.80" y="435.84" width="4.00" height="4.00" fill="#000000"/>
<rect x="552.73" y="434.48" width="4.00" height="4.00" fill="#000000"/>
<rect x="564.65" y="434.48" width="4.00" height="4.00" fill="#000000"/>
<rect x="576.57" y="435.29" width="4.00" height="4.00" fill="#000000"/>
<rect x="588.50" y="432.57" width="4.00" height="4.00" fill="#000000"/>
<rect x="600.42" y="428.75" width="4.00" height="4.00" fill="#000000"/>
<rect x="612.34" y="423.31" width="4.00" height="4.00" fill="#000000"/>
<rect x="624.26" y="419.22" width="4.00" height="4.00" fill="#000000"/>
<rect x="636.19" y="411.05" width="4.00" height="4.00" fill="#000000"/>
<rect x="648.11" y="409.96" width="4.00" height="4.00" fill="#000000"/>
<rect x="660.03" y="416.22" width="4.00" height="4.00" fill="#000000"/>
<rect x="671.95" y="408.05" width="4.00" height="4.00" fill="#000000"/>
<rect x="683.88" y="389.25" width="4.00" height="4.00" fill="#000000"/>
<rect x="695.80" y="400.97" width="4.00" height="4.00" fill="#000000"/>
<path d="M475.85 416.41L478.75 419.31L475.85 422.21L472.95 419.31Z" fill="#ff0000"/>
<path d="M485.94 421.04L488.84 423.94L485.94 426.84L483.04 423.94Z" fill="#ff0000"/>
<path d="M496.03 425.40L498.93 428.30L496.03 431.20L493.13 428.30Z" fill="#ff0000"/>
<path d="M506.12 428.94L509.02 431.84L506.12 434.74L503.22 431.84Z" fill="#ff0000"/>
<path d="M516.21 429.22L519.11 432.12L516.21 435.02L513.31 432.12Z" fill="#ff0000"/>
<path d="M526.30 430.03L529.20 432.93L526.30 435.83L523.40 432.93Z" fill="#ff0000"/>
<path d="M536.38 433.30L539.28 436.20L536.38 439.10L533.48 436.20Z" fill="#ff0000"/>
<path d="M546.47 432.21L549.37 435.11L546.47 438.01L543.57 435.11Z" fill="#ff0000"/>
<path d="M556.56 427.04L559.46 429.94L556.56 432.84L553.66 429.94Z" fill="#ff0000"/>
<path d="M566.65 425.40L569.55 428.30L566.65 431.20L563.75 428.30Z" fill="#ff0000"/>
<path d="M576.74 421.32L579.64 424.22L576.74 427.12L573.84 424.22Z" fill="#ff0000"/>
<path d="M586.83 419.95L589.73 422.85L586.83 425.75L583.93 422.85Z" fill="#ff0000"/>
<path d="M596.92 421.86L599.82 424.76L596.92 427.66L594.02 424.76Z" fill="#ff0000"/>
<path d="M607.00 414.51L609.90 417.41L607.00 420.31L604.10 417.41Z" fill="#ff0000"/>
<path d="M617.09 413.14L619.99 416.04L617.09 418.94L614.19 416.04Z" fill="#ff0000"/>
<path d="M627.18 405.24L630.08 408.14L627.18 411.04L624.28 408.14Z" fill="#ff0000"/>
<path d="M637.27 398.43L640.17 401.33L637.27 404.23L634.37 401.33Z" fill="#ff0000"/>
<path d="M647.36 393.53L650.26 396.43L647.36 399.33L644.46 396.43Z" fill="#ff0000"/>
<path d="M657.45 388.35L660.35 391.25L657.45 394.15L654.55 391.25Z" fill="#ff0000"/>
<path d="M667.53 379.91L670.43 382.81L667.53 385.71L664.63 382.81Z" fill="#ff0000"/>
<path d="M677.62 381.00L680.52 383.90L677.62 386.80L674.72 383.90Z" fill="#ff0000"/>
<path d="M687.71 372.55L690.61 375.45L687.71 378.35L684.81 375.45Z" fill="#ff0000"/>
<path d="M697.80 372.82L700.70 375.72L697.80 378.62L694.90 375.72Z" fill="#ff0000"/>
<path d="M468.29 406.88L471.19 412.24L465.39 412.24Z" fill="#7030a0"/>
<path d="M479.22 410.69L482.12 416.06L476.32 416.06Z" fill="#7030a0"/>
<path d="M490.15 415.60L493.05 420.96L487.25 420.96Z" fill="#7030a0"/>
<path d="M501.07 419.68L503.97 425.05L498.18 425.05Z" fill="#7030a0"/>
<path d="M512.00 422.95L514.90 428.32L509.10 428.32Z" fill="#7030a0"/>
<path d="M522.93 425.68L525.83 431.04L520.03 431.04Z" fill="#7030a0"/>
<path d="M533.86 426.77L536.76 432.13L530.96 432.13Z" fill="#7030a0"/>
<path d="M544.79 426.77L547.69 432.13L541.89 432.13Z" fill="#7030a0"/>
<path d="M555.72 425.95L558.62 431.31L552.82 431.31Z" fill="#7030a0"/>
<path d="M566.65 425.13L569.55 430.50L563.75 430.50Z" fill="#7030a0"/>
<path d="M577.58 425.13L580.48 430.50L574.68 430.50Z" fill="#7030a0"/>
<path d="M588.51 421.86L591.41 427.23L585.61 427.23Z" fill="#7030a0"/>
<path d="M599.44 416.41L602.34 421.78L596.54 421.78Z" fill="#7030a0"/>
<path d="M610.37 416.69L613.27 422.05L607.47 422.05Z" fill="#7030a0"/>
<path d="M621.30 411.24L624.20 416.60L618.40 416.60Z" fill="#7030a0"/>
<path d="M632.22 408.24L635.12 413.61L629.32 413.61Z" fill="#7030a0"/>
<path d="M643.15 409.87L646.05 415.24L640.25 415.24Z" fill="#7030a0"/>
<path d="M654.08 397.89L656.98 403.25L651.18 403.25Z" fill="#7030a0"/>
<path d="M665.01 396.80L667.91 402.16L662.11 402.16Z" fill="#7030a0"/>
<path d="M675.94 394.07L678.84 399.44L673.04 399.44Z" fill="#7030a0"/>
<path d="M686.87 387.81L689.77 393.17L683.97 393.17Z" fill="#7030a0"/>
<path d="M697.80 371.73L700.70 377.10L694.90 377.10Z" fill="#7030a0"/>
<circle cx="468.29" cy="407.87" r="2.10" fill="#00b0f0"/>
<circle cx="479.22" cy="412.77" r="2.10" fill="#00b0f0"/>
<circle cx="490.15" cy="417.13" r="2.10" fill="#00b0f0"/>
<circle cx="501.07" cy="420.68" r="2.10" fill="#00b0f0"/>
<circle cx="512.00" cy="422.58" r="2.10" fill="#00b0f0"/>
<circle cx="522.93" cy="424.49" r="2.10" fill="#00b0f0"/>
<circle cx="533.86" cy="424.49" r="2.10" fill="#00b0f0"/>
<circle cx="544.79" cy="425.85" r="2.10" fill="#00b0f0"/>
<circle cx="555.72" cy="426.67" r="2.10" fill="#00b0f0"/>
<circle cx="566.65" cy="424.49" r="2.10" fill="#00b0f0"/>
<circle cx="577.58" cy="421.22" r="2.10" fill="#00b0f0"/>
<circle cx="588.51" cy="420.68" r="2.10" fill="#00b0f0"/>
<circle cx="599.44" cy="416.04" r="2.10" fill="#00b0f0"/>
<circle cx="610.37" cy="415.23" r="2.10" fill="#00b0f0"/>
<circle cx="621.30" cy="413.59" r="2.10" fill="#00b0f0"/>
<circle cx="632.22" cy="404.87" r="2.10" fill="#00b0f0"/>
<circle cx="643.15" cy="403.24" r="2.10" fill="#00b0f0"/>
<circle cx="654.08" cy="398.34" r="2.10" fill="#00b0f0"/>
<circle cx="665.01" cy="395.88" r="2.10" fill="#00b0f0"/>
<circle cx="675.94" cy="386.08" r="2.10" fill="#00b0f0"/>
<circle cx="686.87" cy="379.27" r="2.10" fill="#00b0f0"/>
<circle cx="697.80" cy="380.63" r="2.10" fill="#00b0f0"/>
<rect x="472.04" y="387.09" width="5.60" height="5.60" fill="#00b050"/>
<rect x="485.16" y="404.53" width="5.60" height="5.60" fill="#00b050"/>
<rect x="498.27" y="409.16" width="5.60" height="5.60" fill="#00b050"/>
<rect x="511.39" y="412.70" width="5.60" height="5.60" fill="#00b050"/>
<rect x="524.50" y="414.33" width="5.60" height="5.60" fill="#00b050"/>
<rect x="537.62" y="417.88" width="5.60" height="5.60" fill="#00b050"/>
<rect x="550.74" y="417.06" width="5.60" height="5.60" fill="#00b050"/>
<rect x="563.85" y="415.70" width="5.60" height="5.60" fill="#00b050"/>
<rect x="576.97" y="414.88" width="5.60" height="5.60" fill="#00b050"/>
<rect x="590.08" y="412.70" width="5.60" height="5.60" fill="#00b050"/>
<rect x="603.20" y="409.70" width="5.60" height="5.60" fill="#00b050"/>
<rect x="616.31" y="408.07" width="5.60" height="5.60" fill="#00b050"/>
<rect x="629.42" y="402.62" width="5.60" height="5.60" fill="#00b050"/>
<rect x="642.54" y="401.53" width="5.60" height="5.60" fill="#00b050"/>
<rect x="655.65" y="399.62" width="5.60" height="5.60" fill="#00b050"/>
<rect x="668.77" y="393.63" width="5.60" height="5.60" fill="#00b050"/>
<rect x="681.88" y="391.99" width="5.60" height="5.60" fill="#00b050"/>
<rect x="695.00" y="387.91" width="5.60" height="5.60" fill="#00b050"/>
<path d="M446.1 295.20H460.6" stroke="#000000" stroke-width="1"/>
<rect x="451.05" y="292.90" width="4.60" height="4.60" fill="#000000"/>
<g transform="translate(462.00 299.60) scale(1.04 1.07)"><text><tspan x="0.00 8.65 17.31 25.96 29.81 37.50 41.35 50.00 57.69 65.38 69.23 73.08 79.81 86.54 90.38 99.04 102.88 114.42" y="0">PUR + PZT (40 wt%)</tspan></text></g>
<path d="M446.1 308.20H460.6" stroke="#ff0000" stroke-width="1"/>
<path d="M453.35 305.30L456.25 308.20L453.35 311.10L450.45 308.20Z" fill="#ff0000"/>
<g transform="translate(462.00 312.60) scale(1.04 1.07)"><text><tspan x="0.00 8.65 17.31 25.96 29.81 37.50 41.35 50.00 57.69 65.38 69.23 73.08 79.81 86.54 90.38 99.04 102.88 114.42 118.27 122.12 129.81 133.65 142.31 146.15 150.00 156.73 160.58 169.23 173.08 184.62" y="0">PUR + PZT (40 wt%) + C (  wt%)</tspan></text><path class="o" transform="translate(150.00 0) scale(0.006348 -0.006348)" d="M763 0h-180v1147q-65 -62 -170.5 -124t-189.5 -93v174q151 71 263.5 171.5t159.5 196.5h117v-1472z"/></g>
<path d="M446.1 321.20H460.6" stroke="#7030a0" stroke-width="1"/>
<path d="M453.35 318.30L456.25 323.66L450.45 323.66Z" fill="#7030a0"/>
<g transform="translate(462.00 325.60) scale(1.04 1.07)"><text><tspan x="0.00 8.65 17.31 25.96 29.81 37.50 41.35 50.00 57.69 65.38 69.23 73.08 79.81 86.54 90.38 99.04 102.88 114.42 118.27 122.12 129.81 133.65 142.31 146.15 150.00 156.73 160.58 169.23 173.08 184.62" y="0">PUR + PZT (40 wt%) + C (2 wt%)</tspan></text></g>
<path d="M446.1 334.20H460.6" stroke="#00b0f0" stroke-width="1"/>
<circle cx="453.35" cy="334.20" r="2.10" fill="#00b0f0"/>
<g transform="translate(462.00 338.60) scale(1.04 1.07)"><text><tspan x="0.00 8.65 17.31 25.96 29.81 37.50 41.35 50.00 57.69 65.38 69.23 73.08 79.81 86.54 90.38 99.04 102.88 114.42 118.27 122.12 129.81 133.65 142.31 146.15 150.00 156.73 160.58 169.23 173.08 184.62" y="0">PUR + PZT (40 wt%) + C (5 wt%)</tspan></text></g>
<path d="M446.1 347.20H460.6" stroke="#00b050" stroke-width="1"/>
<rect x="450.55" y="344.40" width="5.60" height="5.60" fill="#00b050"/>
<g transform="translate(462.00 351.60) scale(1.04 1.07)"><text><tspan x="0.00 8.65 17.31 25.96 29.81 37.50 41.35 50.00 57.69 65.38 69.23 73.08 79.81 86.54 90.38 99.04 102.88 114.42 118.27 122.12 129.81 133.65 142.31 146.15 150.00 156.73 163.46 167.31 175.96 179.81 191.35" y="0">PUR + PZT (40 wt%) + C ( 0 wt%)</tspan></text><path class="o" transform="translate(150.00 0) scale(0.006348 -0.006348)" d="M763 0h-180v1147q-65 -62 -170.5 -124t-189.5 -93v174q151 71 263.5 171.5t159.5 196.5h117v-1472z"/></g>
</svg>
</body></html>
